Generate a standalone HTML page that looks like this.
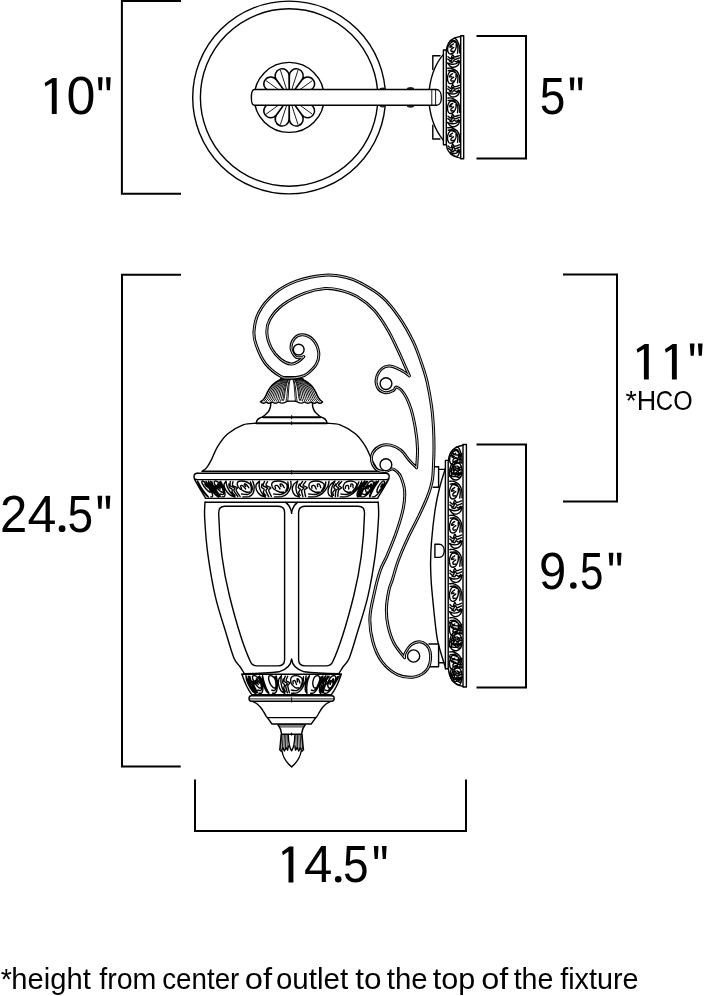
<!DOCTYPE html>
<html><head><meta charset="utf-8">
<style>
html,body{margin:0;padding:0;background:#fff;}
body{width:705px;height:996px;overflow:hidden;position:relative;}
svg{position:absolute;left:0;top:0;}
text{font-family:"Liberation Sans",sans-serif;fill:#000;}
.h{fill:none;stroke:none;}
.b{fill:none;stroke:#000;stroke-width:2;stroke-linecap:butt;stroke-linejoin:miter;}
.l{fill:none;stroke:#000;stroke-width:1.4;stroke-linecap:round;stroke-linejoin:round;}
.t{fill:none;stroke:#000;stroke-width:0.9;stroke-linecap:round;stroke-linejoin:round;}
.w{fill:#fff;stroke:#000;stroke-width:1.4;stroke-linejoin:round;}
.r{fill:none;stroke:#000;stroke-width:0.95;stroke-linecap:round;}
.k{fill:none;stroke:#000;stroke-width:1.9;stroke-linecap:butt;}
.k2{fill:none;stroke:#000;stroke-width:2.6;stroke-linecap:butt;}
.o{fill:none;stroke:#000;stroke-width:1.4;stroke-linecap:round;stroke-linejoin:round;}
.pl{fill:#fff;stroke:#000;stroke-width:1.5;stroke-linejoin:round;}
.d1{fill:none;stroke:#000;stroke-width:3;stroke-linecap:round;stroke-linejoin:round;}
.d2{fill:none;stroke:#fff;stroke-width:0.8;stroke-linecap:round;stroke-linejoin:round;}
</style></head><body>
<svg width="705" height="996" viewBox="0 0 705 996">
<rect width="705" height="996" fill="#fff"/>
<!-- BRACKETS -->
<g id="brackets">
<path class="b" d="M181 0.9H121.9V193.7H181"/>
<path class="b" d="M476.5 36H526V158.5H476.5"/>
<path class="b" d="M181 274.8H122V766.5H180.7"/>
<path class="b" d="M563 274.5H617V501.5H563"/>
<path class="b" d="M476.5 444.5H526V687.5H476.5"/>
<path class="b" d="M195 779.5V831H466V779.5"/>
</g>
<!-- TEXT -->
<g id="labels" opacity="0.999">
<path d="M52.6 77.9L56.7 77.9L56.7 114.1L51.8 114.1L51.8 82.8L45.5 86.6L44.6 83.1Z"/>
<text transform="translate(66.47 114.1) scale(0.52 0.53)" font-size="100">0</text>
<path d="M97.9 77.3L102.6 77.3L101.85 90.2L98.75 90.2ZM106 77.3L110.7 77.3L109.95 90.2L106.85 90.2Z"/>
<text transform="translate(539.68 114.1) scale(0.46 0.52)" font-size="100">5</text>
<path d="M569.7 77.4L574.4 77.4L573.65 90.3L570.55 90.3ZM577.8 77.4L582.5 77.4L581.75 90.3L578.65 90.3Z"/>
<text transform="translate(-0.06 532) scale(0.49 0.52)" font-size="100">2</text>
<text transform="translate(27.6 532) scale(0.52 0.52)" font-size="100">4</text>
<circle cx="62.05" cy="528.7" r="3.4"/>
<text transform="translate(67.46 532) scale(0.46 0.52)" font-size="100">5</text>
<path d="M97.5 495.8L102.2 495.8L101.45 508.7L98.35 508.7ZM105.6 495.8L110.3 495.8L109.55 508.7L106.45 508.7Z"/>
<path d="M644.7 344.1L648.8 344.1L648.8 379.6L643.9 379.6L643.9 349L637.5 352.8L636.6 349.3Z"/>
<path d="M672.7 344.1L676.8 344.1L676.8 379.6L671.9 379.6L671.9 349L665.8 352.8L664.9 349.3Z"/>
<path d="M689.8 343.5L694.5 343.5L693.75 355.7L690.65 355.7ZM697.9 343.5L702.6 343.5L701.85 355.7L698.75 355.7Z"/>
<text transform="translate(625.44 409.6) scale(0.29 0.28)" font-size="100">*</text>
<text transform="translate(636.71 409.6) scale(0.27 0.28)" font-size="100">H</text>
<text transform="translate(655.78 409.6) scale(0.24 0.28)" font-size="100">C</text>
<text transform="translate(673.3 409.6) scale(0.25 0.28)" font-size="100">O</text>
<text transform="translate(539.1 588.7) scale(0.49 0.51)" font-size="100">9</text>
<circle cx="573.35" cy="585.5" r="3.3"/>
<text transform="translate(579.94 588.7) scale(0.42 0.51)" font-size="100">5</text>
<path d="M608.7 552.7L613.4 552.7L612.65 565.6L609.55 565.6ZM616.8 552.7L621.5 552.7L620.75 565.6L617.65 565.6Z"/>
<path d="M289.3 846.6L293.4 846.6L293.4 882.4L288.5 882.4L288.5 851.5L282.9 855.3L282 851.8Z"/>
<text transform="translate(304.04 882.4) scale(0.51 0.52)" font-size="100">4</text>
<circle cx="338.2" cy="879.2" r="3.3"/>
<text transform="translate(343.07 882.4) scale(0.46 0.52)" font-size="100">5</text>
<path d="M373.8 846L378.5 846L377.75 858.9L374.65 858.9ZM381.9 846L386.6 846L385.85 858.9L382.75 858.9Z"/>
<text x="0.84" y="988.8" font-size="30" textLength="11.11" lengthAdjust="spacingAndGlyphs">*</text>
<text x="11.28" y="988.8" font-size="30" textLength="79.54" lengthAdjust="spacingAndGlyphs">height</text>
<text x="99.2" y="988.8" font-size="30" textLength="57.19" lengthAdjust="spacingAndGlyphs">from</text>
<text x="162.22" y="988.8" font-size="30" textLength="77.14" lengthAdjust="spacingAndGlyphs">center</text>
<text x="244.72" y="988.8" font-size="30" textLength="27.33" lengthAdjust="spacingAndGlyphs">of</text>
<text x="275.96" y="988.8" font-size="30" textLength="72.15" lengthAdjust="spacingAndGlyphs">outlet</text>
<text x="355.32" y="988.8" font-size="30" textLength="26.3" lengthAdjust="spacingAndGlyphs">to</text>
<text x="386.76" y="988.8" font-size="30" textLength="40.85" lengthAdjust="spacingAndGlyphs">the</text>
<text x="432.74" y="988.8" font-size="30" textLength="42.55" lengthAdjust="spacingAndGlyphs">top</text>
<text x="481.23" y="988.8" font-size="30" textLength="27.12" lengthAdjust="spacingAndGlyphs">of</text>
<text x="513.67" y="988.8" font-size="30" textLength="39.81" lengthAdjust="spacingAndGlyphs">the</text>
<text x="560.19" y="988.8" font-size="30" textLength="78.28" lengthAdjust="spacingAndGlyphs">fixture</text>
<text class="h" x="42" y="114" font-size="51">10&quot;</text>
<text class="h" x="540" y="114" font-size="51">5&quot;</text>
<text class="h" x="1" y="532" font-size="51">24.5&quot;</text>
<text class="h" x="632" y="379.5" font-size="50">11&quot;</text>
<text class="h" x="540" y="588.5" font-size="50">9.5&quot;</text>
<text class="h" x="278" y="882" font-size="50">14.5&quot;</text>
</g>
<!-- TOPVIEW -->
<g id="topview">
<circle class="l" cx="289.1" cy="97.5" r="96.4"/>
<circle class="l" cx="289.1" cy="97.5" r="88.7"/>
<circle class="w" cx="289.2" cy="97.4" r="35"/>
<path class="pl" d="M289.2 97.4L310 104A6.9 6.9 0 1 0 310 90.8ZM289.2 97.4L309.9 90.5A6.9 6.9 0 1 0 302.1 79.9ZM289.2 97.4L301.9 79.7A6.9 6.9 0 1 0 289.4 75.6ZM289.2 97.4L289 75.6A6.9 6.9 0 1 0 276.5 79.7ZM289.2 97.4L276.3 79.9A6.9 6.9 0 1 0 268.5 90.5ZM289.2 97.4L268.4 90.8A6.9 6.9 0 1 0 268.4 104ZM289.2 97.4L268.5 104.3A6.9 6.9 0 1 0 276.3 114.9ZM289.2 97.4L276.5 115.1A6.9 6.9 0 1 0 289 119.2ZM289.2 97.4L289.4 119.2A6.9 6.9 0 1 0 301.9 115.1ZM289.2 97.4L302.1 114.9A6.9 6.9 0 1 0 309.9 104.3Z"/>
<path class="t" d="M298.2 97.4L317.5 97.4M296.5 92.1L312.1 80.8M292 88.8L297.9 70.5M286.4 88.8L280.5 70.5M281.9 92.1L266.3 80.8M280.2 97.4L260.9 97.4M281.9 102.7L266.3 114M286.4 106L280.5 124.3M292 106L297.9 124.3M296.5 102.7L312.1 114"/>
<ellipse cx="382.8" cy="89" rx="3.2" ry="1.6" fill="#222"/><ellipse cx="382.8" cy="105.8" rx="3.2" ry="1.6" fill="#222"/>
<ellipse cx="410.5" cy="88.8" rx="3.6" ry="1.7" fill="#222"/><ellipse cx="410.5" cy="106" rx="3.6" ry="1.7" fill="#222"/>
<path class="l" d="M443.4 54.4C436 63 429.5 78 428.6 97.3C429.5 116.5 436 131.5 443.4 140.3"/>
<path class="l" d="M440 55.7H432.8V69.5M440 139H432.8V125.2"/>
<path class="w" d="M254.5 89.5H436.5C443 89.5 443 105.3 436.5 105.3H254.5C250.3 105.3 250.3 89.5 254.5 89.5Z"/>
<path class="t" d="M431.8 89.5V105.3M435.6 89.5V105.3"/>
<path class="w" d="M443.4 50H446.3V144.8H443.4Z"/>
<path class="w" d="M460.7 35.8H463.7V158.8H460.7Z"/>
<path class="l" d="M460.7 36.5C452 37.5 447.2 42.5 446.4 50M460.7 158.1C452 157.1 447.2 152.1 446.4 144.8"/>
<path class="o" d="M447.6 63C448 63.5 449.2 65.6 450.3 66.3C451.4 67 453 67.4 454.3 67.2C455.6 67 457.2 66.1 458.2 65.1C459.1 64 459.6 61.6 459.8 60.9M447.6 63C448.3 63.2 450.3 64.1 451.7 64.2C453.1 64.3 454.6 64.1 456 63.6C457.3 63 459.2 61.4 459.8 60.9M448 56.7C448.4 57 450 58.8 450.8 58.5C451.6 58.2 452 55.2 452.6 55C453.2 54.7 453.4 56.9 454.6 57C455.7 57.1 458.5 55.8 459.3 55.6M447.8 59.1C448.4 59.4 450.2 61.2 451.1 60.9C451.9 60.7 452.2 57.9 452.9 57.6C453.5 57.4 453.8 59.4 454.9 59.4C456 59.5 458.7 58.2 459.5 57.9M449.8 61.5C450.2 61.7 451.7 62.5 452.4 62.4C453 62.2 453.3 60.7 453.9 60.6C454.6 60.5 455.5 61.8 456.2 61.8C457 61.8 458.2 60.6 458.6 60.3M453.2 38.6C453.6 38.6 454.7 38.1 455.4 38.6C456.2 39.1 457 40.2 457.6 41.6C458.3 42.9 459.1 44.7 459.5 46.6C459.8 48.5 459.7 51.8 459.7 52.9M451.1 41C451.7 40.9 453.8 40.3 454.8 40.7C455.7 41.1 456.2 42.2 456.7 43.4C457.2 44.5 457.8 45.9 457.9 47.5C458.1 49.2 457.6 52.2 457.5 53.2M455.7 42.8C455.4 42.6 454.7 41.7 454 41.6C453.3 41.5 452.5 41.4 451.5 42.2C450.5 43 448.7 44.9 448.1 46.3C447.5 47.8 447.5 49.6 447.7 50.8C447.9 52 448.5 53 449.1 53.5C449.8 54 450.9 54 451.7 53.8C452.5 53.6 453.2 53.2 453.9 52.3C454.6 51.3 455.6 49.4 456 48.1C456.4 46.8 456.2 45.1 456.3 44.5M453.4 43.9C452.9 44.2 451.4 44.9 450.8 45.4C450.2 46 449.8 47 450 47.2C450.2 47.4 451.7 46.7 452.1 46.6M453.7 47.5C453.3 47.8 451.5 48.7 451.1 49.3C450.7 49.9 451 51.1 451.3 51.4C451.7 51.7 452.8 51.1 453.1 51.1M447.6 92.7C448 93.3 449.2 95.3 450.3 96C451.4 96.7 453 97.1 454.3 96.9C455.6 96.7 457.2 95.9 458.2 94.8C459.1 93.8 459.6 91.4 459.8 90.7M447.6 92.7C448.3 92.9 450.3 93.8 451.7 93.9C453.1 94 454.6 93.9 456 93.3C457.3 92.8 459.2 91.1 459.8 90.7M448 86.5C448.4 86.8 450 88.6 450.8 88.3C451.6 88 452 85 452.6 84.7C453.2 84.5 453.4 86.7 454.6 86.8C455.7 86.9 458.5 85.6 459.3 85.3M447.8 88.9C448.4 89.2 450.2 90.9 451.1 90.7C451.9 90.4 452.2 87.6 452.9 87.4C453.5 87.1 453.8 89.1 454.9 89.2C456 89.2 458.7 87.9 459.5 87.7M449.8 91.3C450.2 91.4 451.7 92.3 452.4 92.1C453 92 453.3 90.5 453.9 90.4C454.6 90.3 455.5 91.6 456.2 91.6C457 91.5 458.2 90.3 458.6 90.1M447.7 68.3C448.4 68.3 450.2 67.8 451.7 68.3C453.3 68.8 455.7 70 457 71.3C458.3 72.7 459 74.5 459.5 76.4C459.9 78.3 459.7 81.6 459.7 82.6M448.2 70.7C449 70.7 451.5 70 452.9 70.4C454.2 70.8 455.4 72 456.2 73.1C457.1 74.2 457.7 75.6 457.9 77.3C458.1 78.9 457.6 82 457.5 82.9M454.9 72.5C454.5 72.3 453.2 71.4 452.4 71.3C451.5 71.2 450.4 71.1 449.7 71.9C448.9 72.7 448 74.6 447.7 76.1C447.4 77.5 447.5 79.4 447.7 80.5C448 81.7 448.5 82.7 449.1 83.2C449.8 83.7 450.9 83.7 451.7 83.5C452.5 83.3 453.2 83 453.9 82C454.6 81.1 455.6 79.2 456 77.9C456.3 76.6 456 74.9 456 74.3M452.6 73.7C452.2 73.9 450.8 74.6 450.3 75.2C449.8 75.7 449.5 76.8 449.8 77C450 77.2 451.5 76.5 451.8 76.4M453.6 77.3C453.2 77.6 451.5 78.4 451.1 79.1C450.7 79.7 451 80.8 451.3 81.1C451.7 81.4 452.8 80.9 453.1 80.8M447.6 122.5C448 123 449.2 125.1 450.3 125.8C451.4 126.5 453 126.9 454.3 126.7C455.6 126.5 457.2 125.6 458.2 124.6C459.1 123.5 459.6 121.1 459.8 120.4M447.6 122.5C448.3 122.7 450.3 123.6 451.7 123.7C453.1 123.8 454.6 123.6 456 123.1C457.3 122.5 459.2 120.9 459.8 120.4M448 116.2C448.4 116.5 450 118.3 450.8 118C451.6 117.7 452 114.7 452.6 114.5C453.2 114.2 453.4 116.4 454.6 116.5C455.7 116.6 458.5 115.3 459.3 115.1M447.8 118.6C448.4 118.9 450.2 120.7 451.1 120.4C451.9 120.2 452.2 117.4 452.9 117.1C453.5 116.9 453.8 118.9 454.9 118.9C456 119 458.7 117.7 459.5 117.4M449.8 121C450.2 121.2 451.7 122 452.4 121.9C453 121.7 453.3 120.2 453.9 120.1C454.6 120 455.5 121.3 456.2 121.3C457 121.3 458.2 120.1 458.6 119.8M447.7 98.1C448.4 98.1 450.2 97.6 451.7 98.1C453.3 98.6 455.7 99.7 457 101.1C458.3 102.4 459 104.2 459.5 106.1C459.9 108 459.7 111.3 459.7 112.4M448.2 100.5C449 100.4 451.5 99.8 452.9 100.2C454.2 100.6 455.4 101.7 456.2 102.9C457.1 104 457.7 105.4 457.9 107C458.1 108.7 457.6 111.7 457.5 112.7M454.9 102.3C454.5 102.1 453.2 101.2 452.4 101.1C451.5 101 450.4 100.9 449.7 101.7C448.9 102.5 448 104.4 447.7 105.8C447.4 107.3 447.5 109.1 447.7 110.3C448 111.5 448.5 112.5 449.1 113C449.8 113.5 450.9 113.5 451.7 113.3C452.5 113.1 453.2 112.7 453.9 111.8C454.6 110.8 455.6 108.9 456 107.6C456.3 106.3 456 104.6 456 104M452.6 103.5C452.2 103.7 450.8 104.4 450.3 104.9C449.8 105.5 449.5 106.5 449.8 106.7C450 106.9 451.5 106.2 451.8 106.1M453.6 107C453.2 107.3 451.5 108.2 451.1 108.8C450.7 109.4 451 110.6 451.3 110.9C451.7 111.2 452.8 110.6 453.1 110.6M449.7 152.2C450.4 152.8 452.9 154.8 454.1 155.5C455.4 156.2 456.4 156.6 457.1 156.4C457.9 156.2 458.3 155.4 458.7 154.3C459.2 153.3 459.7 150.9 459.9 150.2M449.7 152.2C450.3 152.4 452.5 153.3 453.7 153.4C454.8 153.5 455.7 153.4 456.8 152.8C457.8 152.3 459.3 150.6 459.9 150.2M448 146C448.5 146.3 450.3 148.1 451 147.8C451.8 147.5 452 144.5 452.6 144.2C453.2 144 453.5 146.2 454.6 146.3C455.7 146.4 458.5 145.1 459.3 144.8M448.3 148.4C448.9 148.7 451 150.4 451.8 150.2C452.6 149.9 452.4 147.1 453 146.9C453.5 146.6 454.1 148.6 455.2 148.7C456.2 148.7 458.7 147.4 459.5 147.2M450.8 150.8C451.3 150.9 452.8 151.8 453.4 151.6C454 151.5 453.8 150 454.4 149.9C454.9 149.8 456 151.1 456.7 151.1C457.4 151 458.3 149.8 458.7 149.6M447.7 127.8C448.4 127.8 450.2 127.3 451.7 127.8C453.3 128.3 455.7 129.5 457 130.8C458.3 132.2 459 134 459.5 135.9C459.9 137.8 459.7 141.1 459.7 142.1M448.2 130.2C449 130.2 451.5 129.5 452.9 129.9C454.2 130.3 455.4 131.5 456.2 132.6C457.1 133.7 457.7 135.1 457.9 136.8C458.1 138.4 457.6 141.5 457.5 142.4M454.9 132C454.5 131.8 453.2 130.9 452.4 130.8C451.5 130.7 450.4 130.6 449.7 131.4C448.9 132.2 448 134.1 447.7 135.6C447.4 137 447.5 138.9 447.7 140C448 141.2 448.5 142.2 449.1 142.7C449.8 143.2 450.9 143.2 451.7 143C452.5 142.8 453.2 142.5 453.9 141.5C454.6 140.6 455.6 138.7 456 137.4C456.3 136.1 456 134.4 456 133.8M452.6 133.2C452.2 133.4 450.8 134.1 450.3 134.7C449.8 135.2 449.5 136.3 449.8 136.5C450 136.7 451.5 136 451.8 135.9M453.6 136.8C453.2 137.1 451.5 137.9 451.1 138.6C450.7 139.2 451 140.3 451.3 140.6C451.7 140.9 452.8 140.4 453.1 140.3"/>
</g>
<!-- LANTERN -->
<g id="lantern">
<path class="w" d="M281.2 379C280.3 379.5 277.4 380.9 275.8 382C274.2 383.1 273 384.2 271.8 385.5C270.6 386.8 269.6 388.2 268.8 389.5C268 390.8 267.4 392.2 266.8 393.5C266.2 394.8 265.6 396.1 265 397.2C264.4 398.3 263.8 399.2 263 400C262.2 400.8 260.8 401.5 260.4 401.8Q263.4 404.6 266.1 402Q269.1 404.6 272.1 402Q275.4 404.6 278.6 402Q282.8 404.6 287 401.2Q291.6 401 296.2 401.2Q300.4 404.6 304.6 402Q307.9 404.6 311.1 402Q314.1 404.6 317.1 402Q319.9 404.6 322.6 402C322.4 401.5 321 400.8 320.2 400C319.4 399.2 318.8 398.3 318.2 397.2C317.6 396.1 317 394.8 316.4 393.5C315.8 392.2 315.2 390.8 314.4 389.5C313.6 388.2 312.6 386.8 311.4 385.5C310.2 384.2 309 383.1 307.4 382C305.8 380.9 302.9 379.5 302 379Z"/><path class="r" d="M295.8 379.6C296.2 380.2 297.3 381.8 297.9 383C298.5 384.2 298.9 385.7 299.3 387C299.7 388.3 300 389.7 300.3 391C300.6 392.3 300.8 393.8 301 395C301.3 396.2 301.5 397.5 301.8 398.5C302.1 399.5 302.7 400.8 302.8 401.2M287.4 379.6C287 380.2 285.9 381.8 285.3 383C284.7 384.2 284.3 385.7 283.9 387C283.5 388.3 283.2 389.7 282.9 391C282.6 392.3 282.4 393.8 282.2 395C281.9 396.2 281.7 397.5 281.4 398.5C281.1 399.5 280.5 400.8 280.4 401.2M296.6 379.6C297 380.2 298.3 381.8 299 383C299.7 384.2 300.3 385.7 300.8 387C301.2 388.3 301.6 389.7 301.9 391C302.3 392.3 302.5 393.8 302.8 395C303.1 396.2 303.3 397.5 303.7 398.5C304 399.5 304.7 400.8 304.9 401.2M286.6 379.6C286.2 380.2 284.9 381.8 284.2 383C283.5 384.2 282.9 385.7 282.4 387C282 388.3 281.6 389.7 281.3 391C280.9 392.3 280.7 393.8 280.4 395C280.1 396.2 279.9 397.5 279.5 398.5C279.2 399.5 278.5 400.8 278.3 401.2M297.4 379.6C297.9 380.2 299.4 381.8 300.2 383C301 384.2 301.6 385.7 302.2 387C302.7 388.3 303.1 389.7 303.5 391C303.9 392.3 304.2 393.8 304.5 395C304.9 396.2 305.1 397.5 305.5 398.5C305.9 399.5 306.7 400.8 306.9 401.2M285.8 379.6C285.3 380.2 283.8 381.8 283 383C282.2 384.2 281.6 385.7 281 387C280.5 388.3 280.1 389.7 279.7 391C279.3 392.3 279 393.8 278.7 395C278.3 396.2 278.1 397.5 277.7 398.5C277.3 399.5 276.5 400.8 276.3 401.2M298.2 379.6C298.7 380.2 300.4 381.8 301.3 383C302.2 384.2 303 385.7 303.6 387C304.2 388.3 304.7 389.7 305.1 391C305.6 392.3 305.9 393.8 306.3 395C306.6 396.2 306.9 397.5 307.4 398.5C307.9 399.5 308.7 400.8 309 401.2M285 379.6C284.5 380.2 282.8 381.8 281.9 383C281 384.2 280.2 385.7 279.6 387C279 388.3 278.5 389.7 278.1 391C277.6 392.3 277.3 393.8 276.9 395C276.6 396.2 276.3 397.5 275.8 398.5C275.3 399.5 274.5 400.8 274.2 401.2M299 379.6C299.6 380.2 301.5 381.8 302.5 383C303.5 384.2 304.3 385.7 305 387C305.7 388.3 306.2 389.7 306.7 391C307.2 392.3 307.6 393.8 308 395C308.4 396.2 308.8 397.5 309.3 398.5C309.8 399.5 310.8 400.8 311.1 401.2M284.2 379.6C283.6 380.2 281.7 381.8 280.7 383C279.7 384.2 278.9 385.7 278.2 387C277.5 388.3 277 389.7 276.5 391C276 392.3 275.6 393.8 275.2 395C274.8 396.2 274.4 397.5 273.9 398.5C273.4 399.5 272.4 400.8 272.1 401.2M299.8 379.6C300.4 380.2 302.5 381.8 303.6 383C304.7 384.2 305.7 385.7 306.5 387C307.2 388.3 307.8 389.7 308.3 391C308.9 392.3 309.3 393.8 309.7 395C310.2 396.2 310.6 397.5 311.1 398.5C311.7 399.5 312.8 400.8 313.1 401.2M283.4 379.6C282.8 380.2 280.7 381.8 279.6 383C278.5 384.2 277.5 385.7 276.7 387C276 388.3 275.4 389.7 274.9 391C274.3 392.3 273.9 393.8 273.5 395C273 396.2 272.6 397.5 272.1 398.5C271.5 399.5 270.4 400.8 270.1 401.2M300.5 379.6C301.2 380.2 303.6 381.8 304.8 383C306 384.2 307 385.7 307.9 387C308.7 388.3 309.3 389.7 309.9 391C310.5 392.3 310.9 393.8 311.5 395C312 396.2 312.4 397.5 313 398.5C313.6 399.5 314.8 400.8 315.2 401.2M282.7 379.6C282 380.2 279.6 381.8 278.4 383C277.2 384.2 276.2 385.7 275.3 387C274.5 388.3 273.9 389.7 273.3 391C272.7 392.3 272.3 393.8 271.7 395C271.2 396.2 270.8 397.5 270.2 398.5C269.6 399.5 268.4 400.8 268 401.2M301.3 379.6C302.1 380.2 304.6 381.8 305.9 383C307.3 384.2 308.4 385.7 309.3 387C310.2 388.3 310.9 389.7 311.5 391C312.2 392.3 312.6 393.8 313.2 395C313.8 396.2 314.2 397.5 314.9 398.5C315.6 399.5 316.9 400.8 317.3 401.2M281.9 379.6C281.1 380.2 278.6 381.8 277.3 383C275.9 384.2 274.8 385.7 273.9 387C273 388.3 272.3 389.7 271.7 391C271 392.3 270.6 393.8 270 395C269.4 396.2 269 397.5 268.3 398.5C267.6 399.5 266.3 400.8 265.9 401.2M302.1 379.6C302.9 380.2 305.6 381.8 307.1 383C308.5 384.2 309.7 385.7 310.7 387C311.7 388.3 312.4 389.7 313.1 391C313.8 392.3 314.3 393.8 314.9 395C315.5 396.2 316 397.5 316.8 398.5C317.5 399.5 318.9 400.8 319.3 401.2M281.1 379.6C280.3 380.2 277.6 381.8 276.1 383C274.7 384.2 273.5 385.7 272.5 387C271.5 388.3 270.8 389.7 270.1 391C269.4 392.3 268.9 393.8 268.3 395C267.7 396.2 267.2 397.5 266.4 398.5C265.7 399.5 264.3 400.8 263.9 401.2M302.9 379.6C303.8 380.2 306.7 381.8 308.2 383C309.8 384.2 311.1 385.7 312.1 387C313.2 388.3 314 389.7 314.7 391C315.5 392.3 316 393.8 316.7 395C317.3 396.2 317.8 397.5 318.6 398.5C319.4 399.5 320.9 400.8 321.4 401.2M280.3 379.6C279.4 380.2 276.5 381.8 275 383C273.4 384.2 272.1 385.7 271.1 387C270 388.3 269.2 389.7 268.5 391C267.7 392.3 267.2 393.8 266.5 395C265.9 396.2 265.4 397.5 264.6 398.5C263.8 399.5 262.3 400.8 261.8 401.2"/><path class="t" d="M293.1 379.6C293.2 380.2 293.6 381.8 293.8 383C294 384.2 294.2 385.7 294.3 387C294.5 388.3 294.6 389.7 294.7 391C294.8 392.3 294.8 393.8 294.9 395C295 396.2 295.1 397.6 295.2 398.5C295.3 399.4 295.5 400.2 295.5 400.5M290.1 379.6C290 380.2 289.6 381.8 289.4 383C289.2 384.2 289 385.7 288.9 387C288.7 388.3 288.6 389.7 288.5 391C288.4 392.3 288.4 393.8 288.3 395C288.2 396.2 288.1 397.6 288 398.5C287.9 399.4 287.7 400.2 287.7 400.5M293.7 379.6C293.8 380.2 294.4 381.8 294.6 383C294.9 384.2 295.2 385.7 295.4 387C295.6 388.3 295.7 389.7 295.8 391C296 392.3 296.1 393.8 296.2 395C296.3 396.2 296.4 397.6 296.6 398.5C296.7 399.4 297 400.2 297.1 400.5M289.5 379.6C289.4 380.2 288.8 381.8 288.6 383C288.3 384.2 288 385.7 287.8 387C287.6 388.3 287.5 389.7 287.4 391C287.2 392.3 287.1 393.8 287 395C286.9 396.2 286.8 397.6 286.6 398.5C286.5 399.4 286.2 400.2 286.1 400.5M294.7 379.6C294.9 380.2 295.7 381.8 296.2 383C296.6 384.2 297 385.7 297.2 387C297.5 388.3 297.8 389.7 298 391C298.2 392.3 298.3 393.8 298.5 395C298.7 396.2 298.8 397.6 299 398.5C299.2 399.4 299.7 400.2 299.8 400.5M288.5 379.6C288.3 380.2 287.5 381.8 287 383C286.6 384.2 286.2 385.7 286 387C285.7 388.3 285.4 389.7 285.2 391C285 392.3 284.9 393.8 284.7 395C284.5 396.2 284.4 397.6 284.2 398.5C284 399.4 283.5 400.2 283.4 400.5M295.2 379.6C295.4 380.2 296.4 381.8 296.9 383C297.3 384.2 297.7 385.7 298.1 387C298.4 388.3 298.7 389.7 298.9 391C299.1 392.3 299.3 393.8 299.5 395C299.7 396.2 299.9 397.6 300.1 398.5C300.4 399.4 300.9 400.2 301 400.5M288 379.6C287.8 380.2 286.8 381.8 286.3 383C285.9 384.2 285.5 385.7 285.1 387C284.8 388.3 284.5 389.7 284.3 391C284.1 392.3 283.9 393.8 283.7 395C283.5 396.2 283.3 397.6 283.1 398.5C282.8 399.4 282.3 400.2 282.2 400.5"/><path class="l" d="M280.9 376.6H302.6M280.6 378.6H303"/><path class="l" d="M270.8 402.5C270.7 403.2 270.8 405.5 270.4 407C270 408.5 269.4 410.2 268.5 411.5C267.6 412.8 266 414.1 265 415C264 415.9 263 416.7 262.6 417M312.4 402.5C312.5 403.2 312.4 405.5 312.8 407C313.2 408.5 313.8 410.2 314.7 411.5C315.6 412.8 317.2 414.1 318.2 415C319.2 415.9 320.2 416.7 320.6 417"/><path class="k" d="M262.6 417.2H320.6"/><path class="l" d="M262.6 417C258 418 256.5 420.5 256.2 423.1M320.6 417C325.2 418 326.7 420.5 327 423.1"/><path class="k" d="M256 423.2H327.2"/><path class="l" d="M256.4 423.2C254.2 423.5 247.9 423 243.1 424.8C238.3 426.6 232.1 430.2 227.8 433.8C223.6 437.4 220.3 442.3 217.6 446.6C214.9 450.9 213.4 455.8 211.6 459.4C209.8 462.9 208.1 465.9 206.5 467.9C204.9 469.9 202.9 470.7 202.2 471.3M326.8 423.2C329 423.5 335.3 423 340.1 424.8C344.9 426.6 351.2 430.2 355.4 433.8C359.7 437.4 362.9 442.3 365.6 446.6C368.3 450.9 369.8 455.8 371.6 459.4C373.5 462.9 375.1 465.9 376.7 467.9C378.3 469.9 380.3 470.7 381 471.3"/><path class="l" d="M202.2 471.3H381M197.5 473.2H385.7"/><path class="l" d="M197.5 473.2C192.8 473.2 192.8 479.6 197.5 479.6H385.7C390.4 479.6 390.4 473.2 385.7 473.2"/><path class="l" d="M194.4 479.2C197.6 485 201.4 491.5 205.6 498.2M388.8 479.2C385.6 485 381.8 491.5 377.6 498.2"/><path class="l" d="M205.4 498.4H377.8M205 502.3H378.2"/><path class="t" d="M291.6 415.6V418.8M291.6 421.6V424.6M291.6 470.4V474.2M291.6 697.6V702M291.6 733V735.4"/><path class="l" d="M205 502.3C204.9 505.1 204.2 510.1 204.7 518.8C205.2 527.5 206.1 541.7 207.9 554.6C209.7 567.5 212.3 583.4 215.3 596.3C218.3 609.2 222.6 621.7 225.7 632C228.8 642.3 231.5 652.1 233.9 657.9C236.3 663.6 238.2 664 239.9 666.5C241.6 669 243.2 671.8 243.9 672.8M378.2 502.3C378.3 505.1 379 510.1 378.5 518.8C378 527.5 377.1 541.7 375.3 554.6C373.5 567.5 370.9 583.4 367.9 596.3C364.9 609.2 360.6 621.7 357.5 632C354.4 642.3 351.7 652.1 349.3 657.9C346.9 663.6 345 664 343.3 666.5C341.6 669 340 671.8 339.3 672.8"/><path class="l" d="M285.6 502.3C288.8 504.5 291 508 291.6 513.4C292.2 508 294.4 504.5 297.6 502.3"/><path class="l" d="M243.5 673.6C262 673.6 270 673.2 279 671.8C287 669.5 291 665 291.6 658.9C292.2 665 296.2 669.5 304.2 671.8C313.2 673.2 321.2 673.6 339.7 673.6"/><path class="l" d="M224.9 506.2H278C282.5 506.2 284.6 508.5 284.6 512.5V659.5C284.6 663.8 282.3 665.9 278 665.9H257C253.5 665.9 252 665 250.6 662C244 648 236 622 229.5 596C223 570 219.3 540 218.7 514C218.5 508.5 220.5 506.2 224.9 506.2Z"/><path class="l" d="M358.3 506.2H305.2C300.7 506.2 298.6 508.5 298.6 512.5V659.5C298.6 663.8 300.9 665.9 305.2 665.9H326.2C329.7 665.9 331.2 665 332.6 662C339.2 648 347.2 622 353.7 596C360.2 570 363.9 540 364.5 514C364.7 508.5 362.7 506.2 358.3 506.2Z"/><path class="l" d="M241.9 674.2H341.3M251.8 694.6H331.4"/><path class="l" d="M241.9 674.2C244.5 682 247.5 689 251.8 694.6M341.3 674.2C338.7 682 335.7 689 331.4 694.6"/><path class="l" d="M251.5 695.8C248.2 695.8 248.2 701.3 251.5 701.3H331.7C335 701.3 335 695.8 331.7 695.8Z"/><path class="t" d="M249.6 698.9H333.6"/><path class="l" d="M252.8 701.5C253.6 702 256.1 703 257.5 704.2C258.9 705.4 260.4 707 261.5 708.5C262.6 710 263.6 711.8 264.3 713C265.1 714.2 265.5 715.2 266 716C266.5 716.8 267.2 717.3 267.4 717.6M330.4 701.5C329.6 702 327.2 703 325.7 704.2C324.3 705.4 322.8 707 321.7 708.5C320.6 710 319.7 711.8 318.9 713C318.2 714.2 317.7 715.2 317.2 716C316.7 716.8 316 717.3 315.8 717.6"/><path class="l" d="M267.4 717.6H315.8M267.4 717.6L272 724H311.2L315.8 717.6"/><path class="l" d="M278 724.9H305.2"/><path class="t" d="M279.6 726.9H303.6"/><path class="l" d="M278.2 725C279.8 727 281.2 730 281.6 734M305 725C303.4 727 302 730 301.6 734"/><path class="l" d="M281.4 734.2H301.8"/><path class="t" d="M281.6 735L280.7 748.6M283 735L282.3 748.6M284.4 735L283.9 748.6M285.8 735L285.5 748.6M287.2 735L287.1 748.6M301.6 735L302.5 748.6M300.2 735L300.9 748.6M298.8 735L299.3 748.6M297.4 735L297.7 748.6M296 735L296.1 748.6"/><path class="l" d="M281.2 734.4L279.8 749.6M302 734.4L303.4 749.6"/><path class="l" d="M279.6 749.6L281.2 751.2L282.8 747.8L284.4 751L286 747.6L287.6 750.2L288.4 746M303.6 749.6L302 751.2L300.4 747.8L298.8 751L297.2 747.6L295.6 750.2L294.8 746"/><path class="l" d="M288.3 735C288.5 743 289.6 748 291.6 750.8C293.6 748 294.7 743 294.9 735"/><path class="l" d="M282 751C283 757.5 287 763 291.6 766.9C296.2 763 300.2 757.5 301.2 751"/><path class="o" d="M197.6 481.1C197.7 481.7 198 483.2 198.7 484.6C199.4 486.1 200.6 488.1 201.8 489.8C202.9 491.5 204.6 493.7 205.7 494.9C206.8 496.1 207.9 496.7 208.4 497.1M197.6 481.1C198.1 482 199.5 484.7 200.6 486.5C201.7 488.3 203 490.3 204.3 492C205.6 493.8 207.7 496.2 208.4 497.1M206.1 481.3C206.6 482.1 208.2 484.5 209.2 486.5C210.2 488.5 211.6 491.7 212.2 493.4C212.8 495 212.7 496 212.5 496.6C212.3 497.1 211 496.8 210.8 496.9M210.2 490.7C210 490.1 209.3 488.5 208.7 487.3C208 486.2 207.3 484.8 206.4 483.8C205.5 482.8 204.2 481.7 203.5 481.3C202.7 480.9 202.1 481 201.9 481.3C201.7 481.6 201.7 482.3 202.1 483.1C202.5 484 203.4 485.4 204.1 486.5C204.8 487.5 205.4 488.4 206.3 489.3C207.2 490.3 208.6 491.6 209.3 492C210 492.5 210.3 492 210.5 492M208.1 487.7C207.7 487.2 206.3 485.2 205.8 484.6C205.2 484 204.6 483.6 204.8 484C204.9 484.3 206.3 486.2 206.6 486.6M208.6 481.1C208.6 481.7 208.5 483.2 209 484.6C209.5 486.1 210.5 488.1 211.6 489.8C212.6 491.5 214.3 493.7 215.4 494.9C216.5 496.1 217.9 496.7 218.5 497.1M208.6 481.1C209 482 210.1 484.7 211 486.5C212 488.3 213.2 490.3 214.4 492C215.7 493.8 217.8 496.2 218.5 497.1M211.9 481.6C212.1 482.2 212.4 484.3 213.1 485.3C213.7 486.3 215.4 486.8 216 487.7C216.6 488.5 215.7 488.7 216.4 490.2C217.1 491.6 219.8 495.4 220.4 496.4M210.6 481.4C210.9 482.1 211.4 484.5 212.1 485.6C212.8 486.7 214.4 487.2 214.9 488C215.5 488.8 214.8 489.3 215.6 490.7C216.3 492.1 218.8 495.6 219.5 496.6M210.9 484C211.1 484.5 211.8 486.4 212.4 487.3C212.9 488.2 213.8 488.5 214.3 489.3C214.8 490.2 214.9 491.4 215.4 492.4C216 493.4 217.4 494.9 217.8 495.4M220.6 481.3C221 482.1 222.3 484.5 223.1 486.5C223.8 488.5 224.8 491.7 225 493.4C225.3 495 224.9 496 224.4 496.6C223.9 497.1 222.3 496.8 221.9 496.9M219.7 481.9C220.2 483 222.1 486.3 222.8 488C223.5 489.7 223.7 491.3 223.7 492.4C223.8 493.5 223.6 494.3 223 494.5C222.4 494.8 220.7 494.1 220.2 494M223.2 490.7C223 490.1 222.6 488.5 222.1 487.3C221.6 486.2 220.9 484.8 220.1 483.8C219.2 482.8 217.7 481.7 216.8 481.3C215.9 480.9 215 481 214.6 481.3C214.2 481.6 214.1 482.3 214.3 483.1C214.5 484 215.3 485.4 215.9 486.5C216.6 487.5 217.2 488.4 218.1 489.3C219.1 490.3 220.6 491.6 221.4 492C222.3 492.5 222.8 492 223 492M221.1 487.7C220.8 487.2 219.5 485.2 218.9 484.6C218.3 484 217.6 483.6 217.7 484C217.8 484.3 219.1 486.2 219.4 486.6M220.2 489C219.7 488.4 218.2 486.1 217.6 485.6C217 485.1 216.7 485.5 216.8 486C216.9 486.4 217.9 487.9 218.2 488.3M226 481.1C225.7 481.7 224.1 483.2 224 484.6C224 486.1 224.6 488.1 225.6 489.8C226.6 491.5 228.4 493.7 230 494.9C231.6 496.1 234.3 496.7 235.1 497.1M226 481.1C226.2 482 226.4 484.7 227.1 486.5C227.8 488.3 228.9 490.3 230.2 492C231.6 493.8 234.3 496.2 235.1 497.1M233 481.6C233 482.2 231.9 484.3 232.6 485.3C233.3 486.3 236.7 486.8 237.3 487.7C237.9 488.5 235.7 488.7 236.1 490.2C236.6 491.6 239.4 495.4 240.1 496.4M230.4 481.4C230.3 482.1 229.5 484.5 230.2 485.6C230.9 486.7 234 487.2 234.7 488C235.3 488.8 233.4 489.3 233.9 490.7C234.4 492.1 237.2 495.6 237.8 496.6M228.9 484C228.9 484.5 228.8 486.4 229.4 487.3C229.9 488.2 231.6 488.5 232.1 489.3C232.6 490.2 231.7 491.4 232.2 492.4C232.7 493.4 234.5 494.9 235 495.4M252.8 481.3C253 482.1 254.1 484.5 254.2 486.5C254.2 488.5 253.9 491.7 253 493.4C252.1 495 250.6 496 248.9 496.6C247.3 497.1 243.9 496.8 242.9 496.9M250.4 481.9C250.7 483 252.3 486.3 252.4 488C252.5 489.7 251.7 491.3 250.9 492.4C250.1 493.5 248.9 494.3 247.4 494.5C245.8 494.8 242.5 494.1 241.6 494M251 490.7C251.1 490.1 251.5 488.5 251.3 487.3C251 486.2 250.8 484.8 249.6 483.8C248.5 482.8 246 481.7 244.3 481.3C242.6 480.9 240.6 481 239.4 481.3C238.2 481.6 237.4 482.3 237.2 483.1C237 484 237.5 485.4 238.1 486.5C238.7 487.5 239.4 488.4 240.7 489.3C242 490.3 244.5 491.6 246 492C247.4 492.5 249 492 249.6 492M248.9 487.7C248.5 487.2 247.1 485.2 246.4 484.6C245.6 484 244.3 483.6 244.2 484C244.1 484.3 245.5 486.2 245.7 486.6M245.6 489C245.1 488.4 243.4 486.1 242.6 485.6C241.7 485.1 240.6 485.5 240.5 486C240.3 486.4 241.4 487.9 241.6 488.3M259.5 481.1C259 481.7 256.7 483.2 256.2 484.6C255.7 486.1 255.7 488.1 256.4 489.8C257 491.5 258.6 493.7 260.1 494.9C261.6 496.1 264.5 496.7 265.4 497.1M259.5 481.1C259.5 482 258.9 484.7 259.2 486.5C259.5 488.3 260.2 490.3 261.2 492C262.2 493.8 264.7 496.2 265.4 497.1M267.6 481.6C267.4 482.2 265.5 484.3 266 485.3C266.5 486.3 270.4 486.8 270.8 487.7C271.2 488.5 268.6 488.7 268.7 490.2C268.8 491.6 270.9 495.4 271.4 496.4M264.6 481.4C264.3 482.1 262.6 484.5 263.1 485.6C263.6 486.7 267.1 487.2 267.6 488C268 488.8 265.7 489.3 265.9 490.7C266.1 492.1 268.2 495.6 268.7 496.6M262 484C262 484.5 261.2 486.4 261.6 487.3C262 488.2 263.9 488.5 264.2 489.3C264.5 490.2 263.1 491.4 263.4 492.4C263.6 493.4 265.3 494.9 265.7 495.4M290.8 481.3C290.8 482.1 291.4 484.5 290.9 486.5C290.3 488.5 288.9 491.7 287.4 493.4C285.9 495 283.8 496 281.7 496.6C279.5 497.1 275.7 496.8 274.6 496.9M287.8 481.9C287.9 483 288.7 486.3 288.3 488C287.9 489.7 286.6 491.3 285.3 492.4C283.9 493.5 282.4 494.3 280.5 494.5C278.6 494.8 274.9 494.1 273.8 494M285.9 490.7C286.1 490.1 287.1 488.5 287.2 487.3C287.3 486.2 287.4 484.8 286.4 483.8C285.3 482.8 282.8 481.7 280.9 481.3C279.1 480.9 276.7 481 275.2 481.3C273.7 481.6 272.5 482.3 272 483.1C271.5 484 271.7 485.4 272.1 486.5C272.5 487.5 273 488.4 274.3 489.3C275.5 490.3 278 491.6 279.6 492C281.2 492.5 283.1 492 283.8 492M284.3 487.7C284 487.2 283 485.2 282.3 484.6C281.6 484 280.2 483.6 280 484C279.8 484.3 280.8 486.2 280.9 486.6M280 489C279.6 488.4 278.4 486.1 277.5 485.6C276.7 485.1 275.3 485.5 275 486C274.7 486.4 275.5 487.9 275.6 488.3M297.7 481.1C297 481.7 294.4 483.2 293.5 484.6C292.6 486.1 292.1 488.1 292.3 489.8C292.5 491.5 293.5 493.7 294.7 494.9C295.9 496.1 298.6 496.7 299.4 497.1M297.7 481.1C297.4 482 296.2 484.7 296 486.5C295.8 488.3 296 490.3 296.6 492C297.1 493.8 299 496.2 299.4 497.1M305.7 481.6C305.2 482.2 302.8 484.3 303.1 485.3C303.4 486.3 307.1 486.8 307.3 487.7C307.5 488.5 304.8 488.7 304.5 490.2C304.2 491.6 305.4 495.4 305.6 496.4M302.6 481.4C302.2 482.1 299.9 484.5 300.1 485.6C300.3 486.7 303.7 487.2 304 488C304.2 488.8 301.8 489.3 301.6 490.7C301.4 492.1 302.7 495.6 302.9 496.6M299.5 484C299.2 484.5 298.1 486.4 298.2 487.3C298.3 488.2 300.2 488.5 300.3 489.3C300.3 490.2 298.7 491.4 298.7 492.4C298.6 493.4 300 494.9 300.2 495.4M329 481.3C328.8 482.1 328.8 484.5 327.7 486.5C326.6 488.5 324.4 491.7 322.4 493.4C320.4 495 318.2 496 315.9 496.6C313.6 497.1 309.9 496.8 308.6 496.9M325.8 481.9C325.6 483 325.6 486.3 324.7 488C323.9 489.7 322.1 491.3 320.5 492.4C318.9 493.5 317.2 494.3 315.2 494.5C313.2 494.8 309.8 494.1 308.7 494M321.6 490.7C322 490.1 323.4 488.5 323.8 487.3C324.2 486.2 324.6 484.8 323.8 483.8C323.1 482.8 320.8 481.7 319.1 481.3C317.3 480.9 314.9 481 313.3 481.3C311.8 481.6 310.4 482.3 309.7 483.1C308.9 484 308.8 485.4 308.9 486.5C309 487.5 309.3 488.4 310.3 489.3C311.4 490.3 313.5 491.6 314.9 492C316.4 492.5 318.5 492 319.2 492M320.8 487.7C320.6 487.2 320.1 485.2 319.6 484.6C319 484 317.7 483.6 317.4 484C317.1 484.3 317.6 486.2 317.7 486.6M316.2 489C315.9 488.4 315.3 486.1 314.5 485.6C313.8 485.1 312.3 485.5 311.9 486C311.5 486.4 311.9 487.9 311.9 488.3M335 481.1C334.3 481.7 331.6 483.2 330.5 484.6C329.3 486.1 328.4 488.1 328.1 489.8C327.9 491.5 328.2 493.7 328.9 494.9C329.6 496.1 331.8 496.7 332.4 497.1M335 481.1C334.5 482 332.8 484.7 332.2 486.5C331.5 488.3 331.2 490.3 331.2 492C331.2 493.8 332.2 496.2 332.4 497.1M341.7 481.6C341.2 482.2 338.6 484.3 338.5 485.3C338.5 486.3 341.5 486.8 341.5 487.7C341.5 488.5 339.1 488.7 338.5 490.2C337.9 491.6 337.9 495.4 337.8 496.4M339.1 481.4C338.6 482.1 336 484.5 335.9 485.6C335.8 486.7 338.6 487.2 338.6 488C338.6 488.8 336.4 489.3 335.9 490.7C335.3 492.1 335.5 495.6 335.4 496.6M335.8 484C335.4 484.5 333.9 486.4 333.8 487.3C333.7 488.2 335.2 488.5 335.1 489.3C334.9 490.2 333.2 491.4 332.9 492.4C332.6 493.4 333.4 494.9 333.5 495.4M361.7 481.3C361.3 482.1 360.7 484.5 359.2 486.5C357.8 488.5 355.1 491.7 353 493.4C350.8 495 348.7 496 346.5 496.6C344.4 497.1 341.3 496.8 340.3 496.9M358.8 481.9C358.4 483 357.5 486.3 356.3 488C355.1 489.7 353.2 491.3 351.6 492.4C350 493.5 348.3 494.3 346.5 494.5C344.7 494.8 341.9 494.1 341 494M353 490.7C353.4 490.1 355.1 488.5 355.7 487.3C356.3 486.2 357.1 484.8 356.7 483.8C356.2 482.8 354.6 481.7 353.2 481.3C351.8 480.9 349.7 481 348.3 481.3C346.9 481.6 345.6 482.3 344.7 483.1C343.9 484 343.4 485.4 343.2 486.5C343 487.5 343.1 488.4 343.7 489.3C344.3 490.3 345.8 491.6 346.9 492C348.1 492.5 349.9 492 350.5 492M353.1 487.7C353 487.2 353.1 485.2 352.8 484.6C352.5 484 351.5 483.6 351.1 484C350.8 484.3 350.7 486.2 350.7 486.6M348.8 489C348.7 488.4 348.7 486.1 348.2 485.6C347.8 485.1 346.4 485.5 345.9 486C345.4 486.4 345.4 487.9 345.3 488.3M364.8 481.1C364.2 481.7 362.5 483.2 361.5 484.6C360.4 486.1 359.3 488.1 358.5 489.8C357.8 491.5 357.1 493.7 357 494.9C356.9 496.1 357.6 496.7 357.8 497.1M364.8 481.1C364.2 482 362.5 484.7 361.5 486.5C360.6 488.3 359.7 490.3 359.1 492C358.5 493.8 358 496.2 357.8 497.1M367.5 481.6C367.1 482.2 365.2 484.3 364.8 485.3C364.4 486.3 365.6 486.8 365.3 487.7C365 488.5 363.8 488.7 363 490.2C362.2 491.6 360.9 495.4 360.4 496.4M366.5 481.4C366 482.1 363.9 484.5 363.5 485.6C363.1 486.7 364.1 487.2 363.8 488C363.5 488.8 362.4 489.3 361.6 490.7C360.9 492.1 359.7 495.6 359.3 496.6M364.1 484C363.7 484.5 362.3 486.4 362 487.3C361.6 488.2 362.2 488.5 361.8 489.3C361.4 490.2 360.2 491.4 359.7 492.4C359.2 493.4 359 494.9 358.9 495.4M376.6 481.3C376.1 482.1 374.9 484.5 373.6 486.5C372.2 488.5 369.8 491.7 368.3 493.4C366.7 495 365.4 496 364.2 496.6C363.1 497.1 361.8 496.8 361.3 496.9M375 481.9C374.5 483 372.9 486.3 371.7 488C370.6 489.7 369.2 491.3 368 492.4C366.9 493.5 365.8 494.3 365 494.5C364.1 494.8 363.1 494.1 362.7 494M369.2 490.7C369.6 490.1 371 488.5 371.7 487.3C372.4 486.2 373.2 484.8 373.4 483.8C373.6 482.8 373.3 481.7 372.8 481.3C372.3 480.9 371.4 481 370.6 481.3C369.9 481.6 369 482.3 368.3 483.1C367.6 484 366.9 485.4 366.4 486.5C366 487.5 365.7 488.4 365.6 489.3C365.6 490.3 365.7 491.6 366.1 492C366.4 492.5 367.4 492 367.7 492M370.4 487.7C370.5 487.2 371.3 485.2 371.4 484.6C371.4 484 371.2 483.6 370.9 484C370.6 484.3 369.9 486.2 369.7 486.6M368 489C368.2 488.4 369 486.1 369 485.6C369 485.1 368.2 485.5 367.8 486C367.4 486.4 366.9 487.9 366.7 488.3M378.6 481.1C378.1 481.7 376.5 483.2 375.4 484.6C374.3 486.1 373 488.1 372.1 489.8C371.2 491.5 370.2 493.7 369.8 494.9C369.5 496.1 369.8 496.7 369.8 497.1M378.6 481.1C378 482 376.1 484.7 375 486.5C373.9 488.3 372.8 490.3 372 492C371.1 493.8 370.2 496.2 369.8 497.1M387 481.3C386.4 482.1 385.1 484.5 383.6 486.5C382.2 488.5 379.7 491.7 378.2 493.4C376.7 495 375.6 496 374.6 496.6C373.6 497.1 372.8 496.8 372.4 496.9M379.5 490.7C380 490.1 381.3 488.5 382.1 487.3C382.8 486.2 383.8 484.8 384.1 483.8C384.5 482.8 384.5 481.7 384.3 481.3C384.1 480.9 383.3 481 382.7 481.3C382.1 481.6 381.4 482.3 380.7 483.1C380 484 379.1 485.4 378.5 486.5C378 487.5 377.5 488.4 377.3 489.3C377 490.3 376.8 491.6 377 492C377.1 492.5 377.9 492 378.1 492M381.1 487.7C381.3 487.2 382.3 485.2 382.5 484.6C382.7 484 382.6 483.6 382.3 484C382 484.3 381.1 486.2 380.8 486.6"/><path class="o" d="M246 675.8C246.1 676.4 246 678.1 246.5 679.7C247 681.3 247.9 683.5 248.9 685.4C249.9 687.3 251.3 689.7 252.4 691C253.5 692.3 254.9 693 255.3 693.4M246 675.8C246.4 676.8 247.6 679.7 248.6 681.7C249.6 683.7 250.6 685.9 251.7 687.8C252.9 689.8 254.7 692.5 255.3 693.4M249.8 676.3C250 677 250.2 679.3 250.9 680.4C251.6 681.5 253.4 682.1 253.9 683C254.5 683.9 253.5 684.2 254.1 685.8C254.7 687.4 256.9 691.5 257.5 692.7M248.4 676.1C248.6 676.9 249.1 679.6 249.9 680.8C250.6 682 252.2 682.5 252.7 683.4C253.3 684.3 252.5 684.8 253.1 686.4C253.7 687.9 255.9 691.8 256.5 692.9M248.6 678.9C248.8 679.5 249.4 681.6 250 682.6C250.5 683.6 251.4 683.9 251.9 684.9C252.4 685.8 252.3 687.1 252.8 688.2C253.3 689.3 254.5 691 254.9 691.6M259.7 675.9C260 676.9 261.3 679.5 261.8 681.7C262.4 683.9 262.9 687.5 262.9 689.3C262.8 691.2 262.3 692.2 261.6 692.9C261 693.5 259.4 693.2 258.9 693.2M258.7 676.7C259.1 677.8 260.9 681.5 261.3 683.4C261.8 685.3 261.8 687 261.6 688.2C261.5 689.4 261.1 690.3 260.5 690.6C259.8 690.9 258.1 690.2 257.6 690.1M261.3 686.4C261.2 685.7 261 683.9 260.6 682.6C260.2 681.4 259.8 679.9 258.9 678.7C258 677.6 256.4 676.4 255.4 675.9C254.4 675.5 253.4 675.6 252.9 675.9C252.4 676.3 252.3 677 252.5 678C252.7 679 253.4 680.6 254 681.7C254.6 682.9 255.2 683.8 256.1 684.9C256.9 685.9 258.4 687.4 259.2 687.8C260 688.3 260.7 687.8 260.9 687.8M259.6 683C259.2 682.5 258.1 680.3 257.5 679.7C257 679 256.2 678.5 256.3 678.9C256.3 679.3 257.5 681.4 257.8 681.9M258.3 684.5C257.9 683.9 256.5 681.3 255.9 680.8C255.4 680.2 254.9 680.7 255 681.2C255 681.6 256 683.3 256.2 683.8M262.6 675.8C262.5 676.4 262.1 678.1 262.2 679.7C262.4 681.3 263 683.5 263.7 685.4C264.3 687.3 265.4 689.7 266.3 691C267.2 692.3 268.4 693 268.9 693.4M262.6 675.8C262.8 676.8 263.4 679.7 264 681.7C264.6 683.7 265.3 685.9 266.1 687.8C266.9 689.8 268.4 692.5 268.9 693.4M276.2 675.9C276.4 676.9 277.1 679.5 277.3 681.7C277.4 683.9 277.3 687.5 277 689.3C276.7 691.2 276 692.2 275.3 692.9C274.5 693.5 272.9 693.2 272.5 693.2M275 676.7C275.3 677.8 276.3 681.5 276.5 683.4C276.6 685.3 276.3 687 276 688.2C275.6 689.4 275.1 690.3 274.4 690.6C273.7 690.9 272.1 690.2 271.7 690.1M275.9 686.4C275.9 685.7 276.1 683.9 275.9 682.6C275.7 681.4 275.5 679.9 274.8 678.7C274.2 677.6 272.8 676.4 271.9 675.9C271 675.5 270 675.6 269.4 675.9C268.9 676.3 268.6 677 268.6 678C268.6 679 269 680.6 269.4 681.7C269.8 682.9 270.2 683.8 270.9 684.9C271.6 685.9 272.9 687.4 273.6 687.8C274.3 688.3 275 687.8 275.3 687.8M281.3 675.8C280.9 676.4 279.1 678.1 278.7 679.7C278.2 681.3 278.2 683.5 278.7 685.4C279.1 687.3 280.2 689.7 281.2 691C282.3 692.3 284.3 693 284.9 693.4M281.3 675.8C281.3 676.8 280.8 679.7 280.9 681.7C281.1 683.7 281.5 685.9 282.2 687.8C282.8 689.8 284.5 692.5 284.9 693.4M287.7 676.3C287.4 677 285.9 679.3 286.2 680.4C286.5 681.5 289.4 682.1 289.7 683C289.9 683.9 287.9 684.2 287.8 685.8C287.8 687.4 289.1 691.5 289.4 692.7M285.3 676.1C285.1 676.9 283.6 679.6 283.9 680.8C284.3 682 286.9 682.5 287.2 683.4C287.5 684.3 285.7 684.8 285.7 686.4C285.8 687.9 287.1 691.8 287.4 692.9M283.2 678.9C283.1 679.5 282.5 681.6 282.7 682.6C282.9 683.6 284.4 683.9 284.6 684.9C284.7 685.8 283.6 687.1 283.8 688.2C283.9 689.3 285.1 691 285.3 691.6M306.1 675.9C305.9 676.9 305.9 679.5 305.1 681.7C304.3 683.9 302.8 687.5 301.4 689.3C300 691.2 298.4 692.2 296.8 692.9C295.2 693.5 292.5 693.2 291.6 693.2M303.5 676.7C303.4 677.8 303.5 681.5 302.9 683.4C302.3 685.3 301.1 687 300 688.2C298.8 689.4 297.6 690.3 296.2 690.6C294.7 690.9 292.1 690.2 291.3 690.1M300.7 686.4C300.9 685.7 301.9 683.9 302.2 682.6C302.4 681.4 302.7 679.9 302.1 678.7C301.4 677.6 299.6 676.4 298.2 675.9C296.8 675.5 294.9 675.6 293.7 675.9C292.5 676.3 291.5 677 291 678C290.5 679 290.6 680.6 290.8 681.7C290.9 682.9 291.3 683.8 292.1 684.9C293 685.9 294.7 687.4 295.8 687.8C296.9 688.3 298.4 687.8 298.9 687.8M299.9 683C299.7 682.5 299.3 680.3 298.8 679.7C298.3 679 297.3 678.5 297.1 678.9C296.9 679.3 297.4 681.4 297.5 681.9M296.5 684.5C296.2 683.9 295.6 681.3 295 680.8C294.4 680.2 293.3 680.7 293 681.2C292.7 681.6 293.2 683.3 293.2 683.8M309.4 675.8C308.9 676.4 307.4 678.1 306.8 679.7C306.1 681.3 305.6 683.5 305.4 685.4C305.2 687.3 305.2 689.7 305.5 691C305.8 692.3 306.8 693 307 693.4M309.4 675.8C309.1 676.8 307.9 679.7 307.5 681.7C307 683.7 306.8 685.9 306.7 687.8C306.6 689.8 307 692.5 307 693.4M322.9 675.9C322.5 676.9 321.7 679.5 320.7 681.7C319.7 683.9 318.1 687.5 316.9 689.3C315.8 691.2 314.7 692.2 313.7 692.9C312.6 693.5 311.2 693.2 310.7 693.2M321.2 676.7C320.9 677.8 319.9 681.5 319.1 683.4C318.3 685.3 317.3 687 316.4 688.2C315.5 689.4 314.7 690.3 313.8 690.6C312.9 690.9 311.7 690.2 311.3 690.1M317.2 686.4C317.5 685.7 318.5 683.9 318.9 682.6C319.3 681.4 319.9 679.9 319.9 678.7C319.8 677.6 319.2 676.4 318.6 675.9C318 675.5 316.9 675.6 316.1 675.9C315.3 676.3 314.5 677 314 678C313.5 679 313.1 680.6 312.9 681.7C312.7 682.9 312.7 683.8 312.9 684.9C313.1 685.9 313.7 687.4 314.2 687.8C314.7 688.3 315.6 687.8 315.9 687.8M325.9 675.8C325.4 676.4 323.5 678.1 322.5 679.7C321.6 681.3 320.7 683.5 320.1 685.4C319.6 687.3 319.3 689.7 319.4 691C319.5 692.3 320.4 693 320.6 693.4M325.9 675.8C325.4 676.8 323.7 679.7 322.9 681.7C322.1 683.7 321.5 685.9 321.1 687.8C320.7 689.8 320.6 692.5 320.6 693.4M329.1 676.3C328.7 677 326.7 679.3 326.3 680.4C326 681.5 327.4 682.1 327.1 683C326.9 683.9 325.7 684.2 325 685.8C324.4 687.4 323.5 691.5 323.2 692.7M327.9 676.1C327.4 676.9 325.3 679.6 324.9 680.8C324.6 682 325.8 682.5 325.6 683.4C325.4 684.3 324.2 684.8 323.6 686.4C323.1 687.9 322.4 691.8 322.1 692.9M325.4 678.9C325 679.5 323.8 681.6 323.5 682.6C323.2 683.6 323.9 683.9 323.6 684.9C323.3 685.8 322.2 687.1 321.8 688.2C321.5 689.3 321.5 691 321.4 691.6M339.4 675.9C338.9 676.9 337.5 679.5 336.1 681.7C334.7 683.9 332.6 687.5 331.1 689.3C329.6 691.2 328.4 692.2 327.3 692.9C326.1 693.5 324.8 693.2 324.3 693.2M337.6 676.7C337 677.8 335.4 681.5 334.2 683.4C333.1 685.3 331.8 687 330.7 688.2C329.6 689.4 328.6 690.3 327.7 690.6C326.8 690.9 325.7 690.2 325.3 690.1M331.8 686.4C332.2 685.7 333.5 683.9 334.1 682.6C334.8 681.4 335.6 679.9 335.8 678.7C336 677.6 335.6 676.4 335.1 675.9C334.6 675.5 333.5 675.6 332.6 675.9C331.8 676.3 330.8 677 330.1 678C329.4 679 328.7 680.6 328.3 681.7C327.9 682.9 327.7 683.8 327.7 684.9C327.8 685.9 328.2 687.4 328.6 687.8C329 688.3 330 687.8 330.3 687.8M332.8 683C332.9 682.5 333.5 680.3 333.6 679.7C333.6 679 333.3 678.5 333 678.9C332.7 679.3 332.1 681.4 331.9 681.9M330.3 684.5C330.4 683.9 331.1 681.3 331 680.8C330.9 680.2 330.1 680.7 329.8 681.2C329.4 681.6 329 683.3 328.8 683.8"/>
<path class="l" d="M445.5 468C444.5 471.3 441.3 480.8 439.5 488C437.7 495.2 436.2 502.1 434.9 511C433.6 520 432.2 533.2 431.5 541.7C430.8 550.2 430.7 555.6 430.6 562C430.5 568.4 430.7 573 431.1 580C431.5 587 432.3 594.9 433.2 604C434.1 613.1 435.6 627.5 436.6 634.7C437.6 642 437.8 641.8 439.3 647.5C440.8 653.2 444.7 665.2 445.8 668.7"/><path class="l" d="M434.9 466.8H438.6V487.2H433.2M438.6 469.4H444.5"/><path class="l" d="M428.9 644H438.6V666.7H429.4M438.6 662.8H444"/><path class="l" d="M434.9 544.3H439C446 544.3 446 557.4 439 557.4H434.9Z"/><path class="w" d="M445.4 460.4H448.2V668.7H445.4Z"/><path class="w" d="M463 444.5H466.4V687H463Z"/><path class="l" d="M463 445.2C454 446.5 449.2 452 448.4 460.4M463 686.4C454 685 449.2 678 448.4 668.7"/><path class="o" d="M449.6 475.2C450.1 475.8 451.2 478.1 452.4 478.9C453.5 479.7 455.1 480.2 456.5 480C457.8 479.7 459.5 478.8 460.4 477.6C461.4 476.4 461.9 473.6 462.1 472.8M449.6 475.2C450.3 475.4 452.4 476.4 453.8 476.5C455.2 476.7 456.8 476.5 458.2 475.9C459.6 475.2 461.5 473.3 462.1 472.8M450 468C450.5 468.4 452.1 470.4 452.9 470.1C453.7 469.7 454.1 466.2 454.7 466C455.4 465.7 455.6 468.2 456.7 468.4C457.9 468.5 460.8 466.9 461.6 466.6M449.9 470.7C450.4 471.1 452.3 473.1 453.2 472.8C454 472.5 454.3 469.3 455 469C455.7 468.7 456 471 457.1 471.1C458.2 471.1 461 469.7 461.7 469.4M451.8 473.5C452.3 473.6 453.8 474.7 454.5 474.5C455.2 474.3 455.4 472.6 456.1 472.4C456.7 472.3 457.6 473.9 458.4 473.8C459.2 473.8 460.4 472.4 460.8 472.1M456.1 447.2C456.4 447.2 457.5 446.6 458.1 447.2C458.8 447.8 459.4 449.1 460 450.6C460.6 452.1 461.4 454.2 461.8 456.4C462.1 458.6 462 462.4 462 463.6M453.7 449.9C454.3 449.9 456.3 449.1 457.2 449.6C458.1 450 458.5 451.3 459 452.6C459.5 454 460.1 455.5 460.2 457.4C460.3 459.3 459.8 462.8 459.8 463.9M458 452C457.8 451.7 457.1 450.7 456.4 450.6C455.7 450.5 454.9 450.4 453.9 451.3C452.9 452.2 451 454.4 450.3 456.1C449.6 457.7 449.6 459.8 449.7 461.2C449.9 462.5 450.5 463.7 451.2 464.3C451.9 464.8 453 464.8 453.8 464.6C454.6 464.4 455.3 464 456.1 462.9C456.8 461.8 457.8 459.6 458.2 458.1C458.7 456.6 458.5 454.7 458.6 454M455.7 453.3C455.2 453.6 453.7 454.4 453.1 455C452.5 455.7 451.9 456.9 452.1 457.1C452.3 457.3 453.9 456.5 454.3 456.4M456 457.4C455.5 457.8 453.6 458.7 453.2 459.5C452.8 460.2 453.1 461.5 453.4 461.9C453.8 462.2 455 461.6 455.3 461.5M462 453.7C461.6 454.3 460.4 456.6 459.3 457.4C458.2 458.2 456.5 458.7 455.2 458.4C454 458.2 452.2 457.3 451.7 456.1C451.2 454.9 452 452.1 452.1 451.3M462 453.7C461.4 453.9 459.4 454.9 458.1 455C456.8 455.1 455.2 455 454.2 454.4C453.2 453.7 452.5 451.8 452.1 451.3M461.9 459.8C461.2 459.8 459.4 459.2 457.8 459.8C456.2 460.4 453.7 461.7 452.4 463.2C451 464.8 450.3 466.9 449.9 469C449.4 471.2 449.6 475 449.6 476.2M461.3 462.5C460.6 462.5 458 461.8 456.6 462.2C455.2 462.7 454 464 453.2 465.3C452.3 466.6 451.7 468.2 451.4 470.1C451.2 471.9 451.8 475.5 451.8 476.5M454.5 464.6C454.9 464.4 456.2 463.3 457.1 463.2C458 463.1 459.1 463 459.9 463.9C460.7 464.8 461.5 467 461.9 468.7C462.2 470.3 462.1 472.4 461.9 473.8C461.6 475.2 461.1 476.3 460.4 476.9C459.7 477.5 458.6 477.5 457.8 477.2C457 477 456.3 476.6 455.5 475.5C454.8 474.4 453.8 472.2 453.4 470.7C453.1 469.3 453.4 467.3 453.4 466.6M456.9 466C457.3 466.2 458.7 467 459.2 467.7C459.7 468.3 460 469.5 459.8 469.7C459.5 469.9 458 469.1 457.6 469M455.8 470.1C456.2 470.4 458 471.4 458.4 472.1C458.8 472.8 458.5 474.2 458.2 474.5C457.8 474.8 456.6 474.2 456.3 474.2M449.6 509.3C450.1 509.9 451.2 512.3 452.4 513.1C453.5 513.9 455.1 514.3 456.5 514.1C457.8 513.9 459.5 512.9 460.4 511.7C461.4 510.5 461.9 507.7 462.1 506.9M449.6 509.3C450.3 509.6 452.4 510.6 453.8 510.7C455.2 510.8 456.8 510.6 458.2 510C459.6 509.4 461.5 507.4 462.1 506.9M450 502.2C450.5 502.5 452.1 504.5 452.9 504.2C453.7 503.9 454.1 500.4 454.7 500.1C455.4 499.8 455.6 502.4 456.7 502.5C457.9 502.6 460.8 501.1 461.6 500.8M449.9 504.9C450.4 505.2 452.3 507.2 453.2 506.9C454 506.6 454.3 503.5 455 503.2C455.7 502.9 456 505.2 457.1 505.2C458.2 505.3 461 503.8 461.7 503.5M451.8 507.6C452.3 507.8 453.8 508.8 454.5 508.6C455.2 508.5 455.4 506.7 456.1 506.6C456.7 506.5 457.6 508 458.4 508C459.2 507.9 460.4 506.5 460.8 506.2M449.7 481.3C450.4 481.3 452.2 480.8 453.8 481.3C455.4 481.9 457.9 483.2 459.2 484.7C460.6 486.3 461.3 488.4 461.7 490.5C462.2 492.7 462 496.5 462 497.7M450.3 484.1C451 484 453.6 483.3 455 483.7C456.4 484.2 457.6 485.5 458.4 486.8C459.3 488.1 459.9 489.7 460.2 491.6C460.4 493.4 459.8 497 459.8 498.1M457.1 486.1C456.7 485.9 455.4 484.9 454.5 484.7C453.6 484.6 452.5 484.5 451.7 485.4C450.9 486.3 450.1 488.6 449.7 490.2C449.4 491.9 449.5 494 449.7 495.3C450 496.7 450.5 497.8 451.2 498.4C451.9 499 453 499 453.8 498.7C454.6 498.5 455.3 498.1 456.1 497C456.8 496 457.8 493.7 458.2 492.3C458.5 490.8 458.2 488.8 458.2 488.2M454.7 487.5C454.3 487.8 452.9 488.6 452.4 489.2C451.9 489.8 451.6 491 451.8 491.2C452.1 491.5 453.6 490.7 454 490.5M455.8 491.6C455.4 491.9 453.6 492.9 453.2 493.6C452.8 494.4 453.1 495.7 453.4 496C453.8 496.3 455 495.7 455.3 495.7M449.6 543.5C450.1 544.1 451.2 546.4 452.4 547.2C453.5 548 455.1 548.5 456.5 548.2C457.8 548 459.5 547.1 460.4 545.9C461.4 544.7 461.9 541.9 462.1 541.1M449.6 543.5C450.3 543.7 452.4 544.7 453.8 544.8C455.2 544.9 456.8 544.8 458.2 544.1C459.6 543.5 461.5 541.6 462.1 541.1M450 536.3C450.5 536.6 452.1 538.7 452.9 538.3C453.7 538 454.1 534.5 454.7 534.2C455.4 534 455.6 536.5 456.7 536.6C457.9 536.8 460.8 535.2 461.6 534.9M449.9 539C450.4 539.4 452.3 541.4 453.2 541.1C454 540.8 454.3 537.6 455 537.3C455.7 537 456 539.3 457.1 539.4C458.2 539.4 461 537.9 461.7 537.7M451.8 541.8C452.3 541.9 453.8 543 454.5 542.8C455.2 542.6 455.4 540.8 456.1 540.7C456.7 540.6 457.6 542.2 458.4 542.1C459.2 542 460.4 540.7 460.8 540.4M449.7 515.5C450.4 515.5 452.2 514.9 453.8 515.5C455.4 516 457.9 517.3 459.2 518.9C460.6 520.4 461.3 522.5 461.7 524.7C462.2 526.8 462 530.7 462 531.9M450.3 518.2C451 518.1 453.6 517.4 455 517.9C456.4 518.3 457.6 519.6 458.4 520.9C459.3 522.2 459.9 523.8 460.2 525.7C460.4 527.6 459.8 531.1 459.8 532.2M457.1 520.2C456.7 520 455.4 519 454.5 518.9C453.6 518.8 452.5 518.7 451.7 519.6C450.9 520.5 450.1 522.7 449.7 524.3C449.4 526 449.5 528.1 449.7 529.5C450 530.8 450.5 532 451.2 532.5C451.9 533.1 453 533.1 453.8 532.9C454.6 532.7 455.3 532.3 456.1 531.2C456.8 530.1 457.8 527.9 458.2 526.4C458.5 524.9 458.2 523 458.2 522.3M454.7 521.6C454.3 521.9 452.9 522.7 452.4 523.3C451.9 523.9 451.6 525.1 451.8 525.4C452.1 525.6 453.6 524.8 454 524.7M455.8 525.7C455.4 526.1 453.6 527 453.2 527.8C452.8 528.5 453.1 529.8 453.4 530.1C453.8 530.5 455 529.9 455.3 529.8M449.6 577.6C450.1 578.2 451.2 580.6 452.4 581.4C453.5 582.2 455.1 582.6 456.5 582.4C457.8 582.2 459.5 581.2 460.4 580C461.4 578.8 461.9 576 462.1 575.2M449.6 577.6C450.3 577.8 452.4 578.9 453.8 579C455.2 579.1 456.8 578.9 458.2 578.3C459.6 577.7 461.5 575.7 462.1 575.2M450 570.4C450.5 570.8 452.1 572.8 452.9 572.5C453.7 572.1 454.1 568.7 454.7 568.4C455.4 568.1 455.6 570.7 456.7 570.8C457.9 570.9 460.8 569.4 461.6 569.1M449.9 573.2C450.4 573.5 452.3 575.5 453.2 575.2C454 574.9 454.3 571.7 455 571.5C455.7 571.2 456 573.5 457.1 573.5C458.2 573.6 461 572.1 461.7 571.8M451.8 575.9C452.3 576.1 453.8 577.1 454.5 576.9C455.2 576.8 455.4 575 456.1 574.9C456.7 574.8 457.6 576.3 458.4 576.2C459.2 576.2 460.4 574.8 460.8 574.5M449.7 549.6C450.4 549.6 452.2 549 453.8 549.6C455.4 550.2 457.9 551.5 459.2 553C460.6 554.6 461.3 556.7 461.7 558.8C462.2 561 462 564.8 462 566M450.3 552.3C451 552.3 453.6 551.5 455 552C456.4 552.5 457.6 553.8 458.4 555.1C459.3 556.4 459.9 558 460.2 559.9C460.4 561.7 459.8 565.3 459.8 566.3M457.1 554.4C456.7 554.2 455.4 553.1 454.5 553C453.6 552.9 452.5 552.8 451.7 553.7C450.9 554.6 450.1 556.8 449.7 558.5C449.4 560.1 449.5 562.2 449.7 563.6C450 565 450.5 566.1 451.2 566.7C451.9 567.3 453 567.3 453.8 567C454.6 566.8 455.3 566.4 456.1 565.3C456.8 564.2 457.8 562 458.2 560.5C458.5 559.1 458.2 557.1 458.2 556.4M454.7 555.8C454.3 556 452.9 556.8 452.4 557.5C451.9 558.1 451.6 559.3 451.8 559.5C452.1 559.7 453.6 558.9 454 558.8M455.8 559.9C455.4 560.2 453.6 561.2 453.2 561.9C452.8 562.6 453.1 564 453.4 564.3C453.8 564.6 455 564 455.3 564M449.6 611.8C450.1 612.4 451.2 614.7 452.4 615.5C453.5 616.3 455.1 616.8 456.5 616.5C457.8 616.3 459.5 615.3 460.4 614.1C461.4 612.9 461.9 610.2 462.1 609.4M449.6 611.8C450.3 612 452.4 613 453.8 613.1C455.2 613.2 456.8 613.1 458.2 612.4C459.6 611.8 461.5 609.9 462.1 609.4M450 604.6C450.5 604.9 452.1 607 452.9 606.6C453.7 606.3 454.1 602.8 454.7 602.5C455.4 602.2 455.6 604.8 456.7 604.9C457.9 605 460.8 603.5 461.6 603.2M449.9 607.3C450.4 607.7 452.3 609.6 453.2 609.4C454 609.1 454.3 605.9 455 605.6C455.7 605.3 456 607.6 457.1 607.7C458.2 607.7 461 606.2 461.7 605.9M451.8 610C452.3 610.2 453.8 611.2 454.5 611.1C455.2 610.9 455.4 609.1 456.1 609C456.7 608.9 457.6 610.4 458.4 610.4C459.2 610.3 460.4 609 460.8 608.7M449.7 583.8C450.4 583.8 452.2 583.2 453.8 583.8C455.4 584.3 457.9 585.6 459.2 587.2C460.6 588.7 461.3 590.8 461.7 593C462.2 595.1 462 598.9 462 600.1M450.3 586.5C451 586.4 453.6 585.7 455 586.1C456.4 586.6 457.6 587.9 458.4 589.2C459.3 590.5 459.9 592.1 460.2 594C460.4 595.9 459.8 599.4 459.8 600.5M457.1 588.5C456.7 588.3 455.4 587.3 454.5 587.2C453.6 587.1 452.5 586.9 451.7 587.9C450.9 588.8 450.1 591 449.7 592.6C449.4 594.3 449.5 596.4 449.7 597.8C450 599.1 450.5 600.3 451.2 600.8C451.9 601.4 453 601.4 453.8 601.2C454.6 600.9 455.3 600.5 456.1 599.5C456.8 598.4 457.8 596.2 458.2 594.7C458.5 593.2 458.2 591.3 458.2 590.6M454.7 589.9C454.3 590.2 452.9 591 452.4 591.6C451.9 592.2 451.6 593.4 451.8 593.7C452.1 593.9 453.6 593.1 454 593M455.8 594C455.4 594.3 453.6 595.3 453.2 596C452.8 596.8 453.1 598.1 453.4 598.4C453.8 598.8 455 598.2 455.3 598.1M449.6 645.9C450.1 646.5 451.2 648.9 452.4 649.6C453.5 650.4 455.1 650.9 456.5 650.7C457.8 650.4 459.5 649.5 460.4 648.3C461.4 647.1 461.9 644.3 462.1 643.5M449.6 645.9C450.3 646.1 452.4 647.1 453.8 647.3C455.2 647.4 456.8 647.2 458.2 646.6C459.6 646 461.5 644 462.1 643.5M450 638.7C450.5 639.1 452.1 641.1 452.9 640.8C453.7 640.4 454.1 637 454.7 636.7C455.4 636.4 455.6 639 456.7 639.1C457.9 639.2 460.8 637.6 461.6 637.4M449.9 641.5C450.4 641.8 452.3 643.8 453.2 643.5C454 643.2 454.3 640 455 639.7C455.7 639.5 456 641.7 457.1 641.8C458.2 641.9 461 640.4 461.7 640.1M451.8 644.2C452.3 644.4 453.8 645.4 454.5 645.2C455.2 645 455.4 643.3 456.1 643.2C456.7 643 457.6 644.6 458.4 644.5C459.2 644.5 460.4 643.1 460.8 642.8M449.7 617.9C450.4 617.9 452.2 617.3 453.8 617.9C455.4 618.5 457.9 619.8 459.2 621.3C460.6 622.8 461.3 625 461.7 627.1C462.2 629.3 462 633.1 462 634.3M450.3 620.6C451 620.6 453.6 619.8 455 620.3C456.4 620.7 457.6 622.1 458.4 623.4C459.3 624.7 459.9 626.3 460.2 628.1C460.4 630 459.8 633.5 459.8 634.6M457.1 622.7C456.7 622.4 455.4 621.4 454.5 621.3C453.6 621.2 452.5 621.1 451.7 622C450.9 622.9 450.1 625.1 449.7 626.8C449.4 628.4 449.5 630.5 449.7 631.9C450 633.3 450.5 634.4 451.2 635C451.9 635.5 453 635.5 453.8 635.3C454.6 635.1 455.3 634.7 456.1 633.6C456.8 632.5 457.8 630.3 458.2 628.8C458.5 627.3 458.2 625.4 458.2 624.7M454.7 624C454.3 624.3 452.9 625.1 452.4 625.8C451.9 626.4 451.6 627.6 451.8 627.8C452.1 628 453.6 627.2 454 627.1M455.8 628.1C455.4 628.5 453.6 629.4 453.2 630.2C452.8 630.9 453.1 632.2 453.4 632.6C453.8 632.9 455 632.3 455.3 632.2M462 624.4C461.5 625 460.4 627.3 459.2 628.1C458.1 628.9 456.5 629.4 455.1 629.2C453.8 628.9 452.1 628 451.2 626.8C450.2 625.6 449.8 622.8 449.5 622M462 624.4C461.3 624.6 459.2 625.6 457.8 625.8C456.4 625.9 454.8 625.7 453.4 625.1C452 624.4 450.1 622.5 449.5 622M461.9 630.5C461.2 630.5 459.4 630 457.8 630.5C456.2 631.1 453.7 632.4 452.4 633.9C451 635.5 450.3 637.6 449.9 639.7C449.4 641.9 449.6 645.7 449.6 646.9M461.3 633.3C460.6 633.2 458 632.5 456.6 632.9C455.2 633.4 454 634.7 453.2 636C452.3 637.3 451.7 638.9 451.4 640.8C451.2 642.7 451.8 646.2 451.8 647.3M454.5 635.3C454.9 635.1 456.2 634.1 457.1 633.9C458 633.8 459.1 633.7 459.9 634.6C460.7 635.5 461.5 637.8 461.9 639.4C462.2 641.1 462.1 643.2 461.9 644.5C461.6 645.9 461.1 647 460.4 647.6C459.7 648.2 458.6 648.2 457.8 647.9C457 647.7 456.3 647.3 455.5 646.2C454.8 645.2 453.8 642.9 453.4 641.5C453.1 640 453.4 638 453.4 637.4M456.9 636.7C457.3 637 458.7 637.8 459.2 638.4C459.7 639 460 640.2 459.8 640.4C459.5 640.7 458 639.9 457.6 639.7M455.8 640.8C456.2 641.1 458 642.1 458.4 642.8C458.8 643.6 458.5 644.9 458.2 645.2C457.8 645.6 456.6 644.9 456.3 644.9M451.8 680C452.6 680.7 455.1 683 456.4 683.8C457.7 684.6 458.7 685 459.4 684.8C460.2 684.6 460.6 683.6 461 682.4C461.5 681.2 462 678.4 462.2 677.6M451.8 680C452.5 680.3 454.7 681.3 455.9 681.4C457.1 681.5 458 681.3 459 680.7C460.1 680.1 461.6 678.2 462.2 677.6M450.1 672.9C450.6 673.2 452.4 675.3 453.2 674.9C453.9 674.6 454.1 671.1 454.7 670.8C455.3 670.5 455.6 673.1 456.8 673.2C457.9 673.3 460.8 671.8 461.6 671.5M450.4 675.6C451 675.9 453.2 677.9 454 677.6C454.8 677.4 454.5 674.2 455.1 673.9C455.7 673.6 456.3 675.9 457.4 675.9C458.5 676 461 674.5 461.8 674.2M453 678.3C453.4 678.5 455 679.5 455.6 679.4C456.2 679.2 456 677.4 456.6 677.3C457.1 677.2 458.2 678.7 458.9 678.7C459.6 678.6 460.6 677.2 460.9 677M449.7 652C450.4 652 452.2 651.5 453.8 652C455.4 652.6 457.9 653.9 459.2 655.5C460.6 657 461.3 659.1 461.7 661.3C462.2 663.4 462 667.2 462 668.4M450.3 654.8C451 654.7 453.6 654 455 654.4C456.4 654.9 457.6 656.2 458.4 657.5C459.3 658.8 459.9 660.4 460.2 662.3C460.4 664.2 459.8 667.7 459.8 668.8M457.1 656.8C456.7 656.6 455.4 655.6 454.5 655.5C453.6 655.3 452.5 655.2 451.7 656.1C450.9 657 450.1 659.3 449.7 660.9C449.4 662.6 449.5 664.7 449.7 666C450 667.4 450.5 668.5 451.2 669.1C451.9 669.7 453 669.7 453.8 669.5C454.6 669.2 455.3 668.8 456.1 667.7C456.8 666.7 457.8 664.4 458.2 663C458.5 661.5 458.2 659.6 458.2 658.9M454.7 658.2C454.3 658.5 452.9 659.3 452.4 659.9C451.9 660.5 451.6 661.7 451.8 661.9C452.1 662.2 453.6 661.4 454 661.3M455.8 662.3C455.4 662.6 453.6 663.6 453.2 664.3C452.8 665.1 453.1 666.4 453.4 666.7C453.8 667.1 455 666.4 455.3 666.4M462 658.5C461.5 659.2 460.4 661.5 459.2 662.3C458.1 663.1 456.5 663.5 455.1 663.3C453.8 663.1 452.1 662.1 451.2 660.9C450.2 659.7 449.8 656.9 449.5 656.1M462 658.5C461.3 658.8 459.2 659.8 457.8 659.9C456.4 660 454.8 659.8 453.4 659.2C452 658.6 450.1 656.6 449.5 656.1M461.9 664.7C461.2 664.7 459.4 664.1 457.8 664.7C456.2 665.2 453.7 666.6 452.4 668.1C451.1 669.6 450 671.7 450 673.9C450.1 676.1 452 679.9 452.4 681.1M461.3 667.4C460.6 667.3 458 666.6 456.6 667.1C455.2 667.5 454 668.8 453.2 670.1C452.4 671.4 451.5 673 451.7 674.9C452 676.8 453.9 680.3 454.4 681.4M454.5 669.5C454.9 669.2 456.2 668.2 457.1 668.1C458 668 459.1 667.9 459.9 668.8C460.7 669.7 461.5 671.9 461.9 673.5C462.2 675.2 462.1 677.3 461.9 678.7C461.8 680 461.4 681.2 460.9 681.7C460.5 682.3 459.8 682.3 459.1 682.1C458.4 681.9 457.7 681.5 456.8 680.4C456 679.3 454.3 677.1 453.8 675.6C453.2 674.1 453.5 672.2 453.4 671.5M456.9 670.8C457.3 671.1 458.7 671.9 459.2 672.5C459.7 673.2 460.1 674.3 459.8 674.6C459.6 674.8 458.1 674 457.7 673.9M456 674.9C456.4 675.3 458.2 676.2 458.7 677C459.2 677.7 459.1 679 458.8 679.4C458.5 679.7 457.4 679.1 457.1 679"/>
<path class="d1" d="M303.6 356.8C302.4 356.9 298.3 358.6 296.2 357.2C294.1 355.8 291.4 351.6 291.1 348.4C290.8 345.2 292.5 340.5 294.5 338.2C296.5 335.9 299.9 334.5 303 334.8C306.1 335.1 310.6 337.1 313.2 339.9C315.8 342.7 318 347.8 318.6 351.8C319.2 355.8 318.4 360.1 316.6 363.7C314.9 367.2 310.8 370.9 308.1 373.1C305.4 375.3 303.3 376 300.4 376.8C297.5 377.6 293.8 378.1 290.5 378C287.2 377.9 285.1 378.9 280.9 376.5C276.7 374.1 269.6 368.9 265.5 363.7C261.4 358.4 258.1 350.4 256.2 345C254.3 339.6 253.6 336.8 254 331.4C254.4 326 255.4 318.9 258.7 312.7C262 306.4 267.8 299.1 274 293.9C280.2 288.6 287.7 284.3 296.2 281.2C304.7 278.1 316.9 275.8 325.1 275.2C333.3 274.6 339.6 276 345.5 277.3C351.4 278.6 354.2 279.6 360.4 282.9C366.6 286.2 376.1 291.5 382.6 297.3C389.1 303.1 394.5 310.4 399.6 317.8C404.7 325.2 409.5 334 413.2 341.6C416.9 349.2 419.4 356.9 421.7 363.7C424 370.4 425.6 375.1 427.2 382.1C428.8 389.2 430.4 398.3 431.5 406C432.6 413.7 433.1 421 433.5 428.1C433.9 435.2 434 442.9 434 448.5C434 454.1 433.9 456.7 433.6 462C433.3 467.3 433.4 474.5 432.3 480.4C431.2 486.3 429.6 491.1 427.2 497.4C424.8 503.6 421.1 511.1 417.9 517.9C414.6 524.7 411 531.2 407.7 538.3C404.4 545.4 400.9 553.4 398.3 560.4C395.7 567.4 393.9 575 392.3 580C390.7 585 389.9 585.5 388.9 590.4C387.9 595.2 386.5 603.1 386.4 609.1C386.3 615.1 386.8 620.5 388.1 626.2C389.4 631.9 391.2 638 394 643.2C396.8 648.5 402.8 655.3 404.6 657.7M303.8 356.6C302.9 357.4 300.8 359.9 298.7 361.2C296.6 362.4 294.1 364.4 291.1 364.1C288.1 363.8 284.2 362.1 280.9 359.5C277.6 356.9 273.8 352.8 271.5 348.4C269.2 344 267.2 337.9 266.9 333.1C266.6 328.3 267.2 324.2 269.8 319.5C272.4 314.8 276.8 309.4 282.6 305C288.4 300.6 297.6 295.9 304.7 293.1C311.8 290.4 319.2 289 325.1 288.5C331 288 334.7 288.9 340 290.2C345.3 291.5 351.3 293.2 357 296.5C362.7 299.8 368.9 304.6 374 310.1C379.1 315.6 383.7 323 387.7 329.7C391.7 336.4 394.9 343.9 397.9 350.1C400.9 356.3 403.6 362.8 405.5 367.1C407.4 371.4 408.8 374.4 409.4 375.9M409.4 375.9C408.3 375.1 405.8 372.8 402.8 371.2C399.8 369.6 394.7 366.7 391.3 366.2C387.9 365.7 384.8 366.3 382.3 368.3C379.8 370.3 377.1 374.9 376.4 378.2C375.7 381.5 376.4 385.7 377.9 388.1C379.4 390.5 382.9 392.3 385.5 392.7C388.1 393.1 391.3 391.5 393.2 390.6C395.1 389.7 394.8 386.6 396.6 387.2C398.5 387.8 401.9 390.3 404.3 394C406.7 397.7 409.3 403.7 411.1 409.4C412.9 415.1 414.2 421.6 415.3 428.1C416.4 434.6 417.3 441.9 417.5 448.5C417.7 455.1 416.8 464.6 416.6 467.8M416.6 467.8C415.4 466.6 412 463.3 409.4 460.4C406.8 457.5 404 452.8 400.9 450.2C397.8 447.6 394 445.8 390.6 445.1C387.2 444.4 383.4 444.7 380.4 446C377.4 447.3 374.2 450.1 372.8 452.8C371.4 455.5 371.2 459.3 371.9 462.1C372.6 464.9 374.7 468.2 377 469.8C379.3 471.4 382.9 471.6 385.5 471.5C388.1 471.4 390.4 468.9 392.3 468.9C394.2 468.9 395.4 470.1 396.8 471.5C398.2 472.9 399.6 473.8 400.9 477C402.2 480.2 404.2 485.5 404.6 490.6C405 495.7 404.7 500.9 403.4 507.7C402.1 514.5 399.3 523.6 396.6 531.5C393.9 539.4 389.9 548.9 387.2 555.3C384.5 561.7 382.5 563.9 380.4 570C378.3 576.1 376.2 584.1 374.5 592.1C372.8 600.1 370.2 609.5 369.9 617.7C369.6 625.9 370.8 634.1 372.8 641.5C374.8 648.9 378 656.4 382.1 661.9C386.2 667.4 392.3 672.2 397.4 674.7C402.5 677.2 408.2 677.6 412.8 677.2C417.4 676.8 421.9 674.4 424.7 672.1C427.5 669.8 428.9 667 429.8 663.6C430.7 660.2 430.7 654.8 430.1 651.7C429.5 648.6 428.1 646.5 426.4 644.9C424.6 643.2 422.2 641.8 419.6 641.8C417.1 641.8 413.5 643 411.1 644.9C408.7 646.8 406.2 651.3 405.1 653.4C404 655.5 404.7 657 404.6 657.7"/><path class="d2" d="M303.6 356.8C302.4 356.9 298.3 358.6 296.2 357.2C294.1 355.8 291.4 351.6 291.1 348.4C290.8 345.2 292.5 340.5 294.5 338.2C296.5 335.9 299.9 334.5 303 334.8C306.1 335.1 310.6 337.1 313.2 339.9C315.8 342.7 318 347.8 318.6 351.8C319.2 355.8 318.4 360.1 316.6 363.7C314.9 367.2 310.8 370.9 308.1 373.1C305.4 375.3 303.3 376 300.4 376.8C297.5 377.6 293.8 378.1 290.5 378C287.2 377.9 285.1 378.9 280.9 376.5C276.7 374.1 269.6 368.9 265.5 363.7C261.4 358.4 258.1 350.4 256.2 345C254.3 339.6 253.6 336.8 254 331.4C254.4 326 255.4 318.9 258.7 312.7C262 306.4 267.8 299.1 274 293.9C280.2 288.6 287.7 284.3 296.2 281.2C304.7 278.1 316.9 275.8 325.1 275.2C333.3 274.6 339.6 276 345.5 277.3C351.4 278.6 354.2 279.6 360.4 282.9C366.6 286.2 376.1 291.5 382.6 297.3C389.1 303.1 394.5 310.4 399.6 317.8C404.7 325.2 409.5 334 413.2 341.6C416.9 349.2 419.4 356.9 421.7 363.7C424 370.4 425.6 375.1 427.2 382.1C428.8 389.2 430.4 398.3 431.5 406C432.6 413.7 433.1 421 433.5 428.1C433.9 435.2 434 442.9 434 448.5C434 454.1 433.9 456.7 433.6 462C433.3 467.3 433.4 474.5 432.3 480.4C431.2 486.3 429.6 491.1 427.2 497.4C424.8 503.6 421.1 511.1 417.9 517.9C414.6 524.7 411 531.2 407.7 538.3C404.4 545.4 400.9 553.4 398.3 560.4C395.7 567.4 393.9 575 392.3 580C390.7 585 389.9 585.5 388.9 590.4C387.9 595.2 386.5 603.1 386.4 609.1C386.3 615.1 386.8 620.5 388.1 626.2C389.4 631.9 391.2 638 394 643.2C396.8 648.5 402.8 655.3 404.6 657.7M303.8 356.6C302.9 357.4 300.8 359.9 298.7 361.2C296.6 362.4 294.1 364.4 291.1 364.1C288.1 363.8 284.2 362.1 280.9 359.5C277.6 356.9 273.8 352.8 271.5 348.4C269.2 344 267.2 337.9 266.9 333.1C266.6 328.3 267.2 324.2 269.8 319.5C272.4 314.8 276.8 309.4 282.6 305C288.4 300.6 297.6 295.9 304.7 293.1C311.8 290.4 319.2 289 325.1 288.5C331 288 334.7 288.9 340 290.2C345.3 291.5 351.3 293.2 357 296.5C362.7 299.8 368.9 304.6 374 310.1C379.1 315.6 383.7 323 387.7 329.7C391.7 336.4 394.9 343.9 397.9 350.1C400.9 356.3 403.6 362.8 405.5 367.1C407.4 371.4 408.8 374.4 409.4 375.9M409.4 375.9C408.3 375.1 405.8 372.8 402.8 371.2C399.8 369.6 394.7 366.7 391.3 366.2C387.9 365.7 384.8 366.3 382.3 368.3C379.8 370.3 377.1 374.9 376.4 378.2C375.7 381.5 376.4 385.7 377.9 388.1C379.4 390.5 382.9 392.3 385.5 392.7C388.1 393.1 391.3 391.5 393.2 390.6C395.1 389.7 394.8 386.6 396.6 387.2C398.5 387.8 401.9 390.3 404.3 394C406.7 397.7 409.3 403.7 411.1 409.4C412.9 415.1 414.2 421.6 415.3 428.1C416.4 434.6 417.3 441.9 417.5 448.5C417.7 455.1 416.8 464.6 416.6 467.8M416.6 467.8C415.4 466.6 412 463.3 409.4 460.4C406.8 457.5 404 452.8 400.9 450.2C397.8 447.6 394 445.8 390.6 445.1C387.2 444.4 383.4 444.7 380.4 446C377.4 447.3 374.2 450.1 372.8 452.8C371.4 455.5 371.2 459.3 371.9 462.1C372.6 464.9 374.7 468.2 377 469.8C379.3 471.4 382.9 471.6 385.5 471.5C388.1 471.4 390.4 468.9 392.3 468.9C394.2 468.9 395.4 470.1 396.8 471.5C398.2 472.9 399.6 473.8 400.9 477C402.2 480.2 404.2 485.5 404.6 490.6C405 495.7 404.7 500.9 403.4 507.7C402.1 514.5 399.3 523.6 396.6 531.5C393.9 539.4 389.9 548.9 387.2 555.3C384.5 561.7 382.5 563.9 380.4 570C378.3 576.1 376.2 584.1 374.5 592.1C372.8 600.1 370.2 609.5 369.9 617.7C369.6 625.9 370.8 634.1 372.8 641.5C374.8 648.9 378 656.4 382.1 661.9C386.2 667.4 392.3 672.2 397.4 674.7C402.5 677.2 408.2 677.6 412.8 677.2C417.4 676.8 421.9 674.4 424.7 672.1C427.5 669.8 428.9 667 429.8 663.6C430.7 660.2 430.7 654.8 430.1 651.7C429.5 648.6 428.1 646.5 426.4 644.9C424.6 643.2 422.2 641.8 419.6 641.8C417.1 641.8 413.5 643 411.1 644.9C408.7 646.8 406.2 651.3 405.1 653.4C404 655.5 404.7 657 404.6 657.7"/>
<circle class="w" cx="298.7" cy="349.6" r="5.4"/><circle class="w" cx="386" cy="383.6" r="5.9"/><circle class="w" cx="385.9" cy="464.7" r="5.9"/><circle class="w" cx="413.6" cy="656" r="6.1"/>
</g>
</svg>
</body></html>
